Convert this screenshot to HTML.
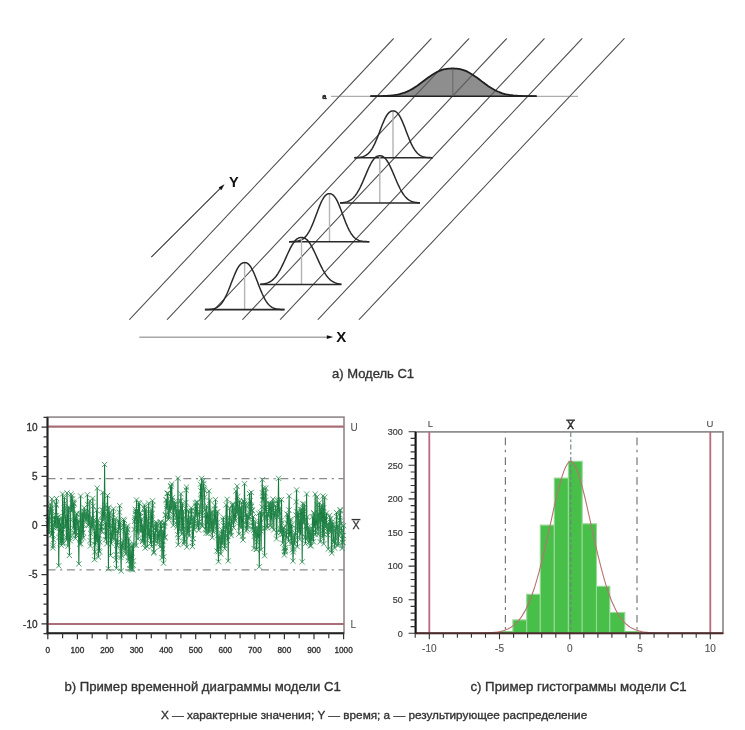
<!DOCTYPE html>
<html><head><meta charset="utf-8"><style>
html,body{margin:0;padding:0;background:#fff;width:745px;height:730px;overflow:hidden}
svg{display:block;filter:blur(0.7px);font-family:"Liberation Sans",sans-serif}
</style></head><body>
<svg width="745" height="730" viewBox="0 0 745 730" font-family="Liberation Sans, sans-serif"><g stroke="#6c6c6c" stroke-width="1.0" fill="none"><line x1="129.4" y1="319.7" x2="393.6" y2="38.5"/><line x1="167.1" y1="319.7" x2="431.3" y2="38.5"/><line x1="204.8" y1="319.7" x2="469.0" y2="38.5"/><line x1="242.5" y1="319.7" x2="506.7" y2="38.5"/><line x1="280.2" y1="319.7" x2="544.4" y2="38.5"/><line x1="317.9" y1="319.7" x2="582.1" y2="38.5"/><line x1="359.0" y1="319.7" x2="624.4" y2="38.4"/></g>
<line x1="331" y1="96.3" x2="578" y2="96.3" stroke="#9a9a9a" stroke-width="1"/>
<polygon points="370.40,96.18 372.06,96.18 373.72,96.17 375.39,96.15 377.05,96.13 378.71,96.11 380.37,96.08 382.03,96.04 383.70,95.98 385.36,95.91 387.02,95.83 388.68,95.72 390.34,95.58 392.01,95.41 393.67,95.21 395.33,94.96 396.99,94.67 398.65,94.32 400.32,93.92 401.98,93.45 403.64,92.92 405.30,92.31 406.96,91.62 408.63,90.86 410.29,90.03 411.95,89.11 413.61,88.13 415.27,87.07 416.94,85.96 418.60,84.79 420.26,83.58 421.92,82.34 423.58,81.08 425.25,79.82 426.91,78.57 428.57,77.34 430.23,76.15 431.89,75.02 433.56,73.96 435.22,72.97 436.88,72.07 438.54,71.27 440.20,70.57 441.87,69.98 443.53,69.49 445.19,69.11 446.85,68.83 448.51,68.64 450.18,68.54 451.84,68.50 453.50,68.51 455.16,68.55 456.82,68.67 458.49,68.88 460.15,69.18 461.81,69.58 463.47,70.09 465.13,70.71 466.80,71.43 468.46,72.25 470.12,73.16 471.78,74.17 473.44,75.25 475.11,76.39 476.77,77.59 478.43,78.82 480.09,80.07 481.75,81.34 483.42,82.59 485.08,83.83 486.74,85.03 488.40,86.19 490.06,87.29 491.73,88.33 493.39,89.30 495.05,90.20 496.71,91.02 498.37,91.77 500.04,92.44 501.70,93.03 503.36,93.55 505.02,94.01 506.68,94.40 508.35,94.73 510.01,95.02 511.67,95.25 513.33,95.45 514.99,95.61 516.66,95.74 518.32,95.85 519.98,95.93 521.64,95.99 523.30,96.05 524.97,96.09 526.63,96.12 528.29,96.14 529.95,96.16 531.61,96.17 533.28,96.18 534.94,96.18 536.60,96.19" fill="#8e8e8e"/>
<g stroke="#4a4a4a" stroke-width="1.1" fill="none" opacity="0.7"><line x1="129.4" y1="319.7" x2="393.6" y2="38.5"/><line x1="167.1" y1="319.7" x2="431.3" y2="38.5"/><line x1="204.8" y1="319.7" x2="469.0" y2="38.5"/><line x1="242.5" y1="319.7" x2="506.7" y2="38.5"/><line x1="280.2" y1="319.7" x2="544.4" y2="38.5"/><line x1="317.9" y1="319.7" x2="582.1" y2="38.5"/><line x1="359.0" y1="319.7" x2="624.4" y2="38.4"/></g>
<polyline points="370.40,96.18 372.06,96.18 373.72,96.17 375.39,96.15 377.05,96.13 378.71,96.11 380.37,96.08 382.03,96.04 383.70,95.98 385.36,95.91 387.02,95.83 388.68,95.72 390.34,95.58 392.01,95.41 393.67,95.21 395.33,94.96 396.99,94.67 398.65,94.32 400.32,93.92 401.98,93.45 403.64,92.92 405.30,92.31 406.96,91.62 408.63,90.86 410.29,90.03 411.95,89.11 413.61,88.13 415.27,87.07 416.94,85.96 418.60,84.79 420.26,83.58 421.92,82.34 423.58,81.08 425.25,79.82 426.91,78.57 428.57,77.34 430.23,76.15 431.89,75.02 433.56,73.96 435.22,72.97 436.88,72.07 438.54,71.27 440.20,70.57 441.87,69.98 443.53,69.49 445.19,69.11 446.85,68.83 448.51,68.64 450.18,68.54 451.84,68.50 453.50,68.51 455.16,68.55 456.82,68.67 458.49,68.88 460.15,69.18 461.81,69.58 463.47,70.09 465.13,70.71 466.80,71.43 468.46,72.25 470.12,73.16 471.78,74.17 473.44,75.25 475.11,76.39 476.77,77.59 478.43,78.82 480.09,80.07 481.75,81.34 483.42,82.59 485.08,83.83 486.74,85.03 488.40,86.19 490.06,87.29 491.73,88.33 493.39,89.30 495.05,90.20 496.71,91.02 498.37,91.77 500.04,92.44 501.70,93.03 503.36,93.55 505.02,94.01 506.68,94.40 508.35,94.73 510.01,95.02 511.67,95.25 513.33,95.45 514.99,95.61 516.66,95.74 518.32,95.85 519.98,95.93 521.64,95.99 523.30,96.05 524.97,96.09 526.63,96.12 528.29,96.14 529.95,96.16 531.61,96.17 533.28,96.18 534.94,96.18 536.60,96.19" fill="none" stroke="#1e1e1e" stroke-width="1.8"/>
<line x1="370.4" y1="96.2" x2="536.6" y2="96.2" stroke="#222" stroke-width="1.6"/>
<line x1="452.8" y1="96" x2="452.8" y2="68.8" stroke="#6a6a6a" stroke-width="1.1"/>
<text x="322.3" y="98.8" font-size="7.5" font-weight="bold" fill="#222" stroke="#222" stroke-width="0.4">a</text>
<line x1="393.0" y1="157.7" x2="393.0" y2="111.89999999999999" stroke="#b4b4b4" stroke-width="1.4"/>
<polyline points="354.30,157.65 355.08,157.63 355.87,157.60 356.65,157.57 357.43,157.52 358.22,157.47 359.00,157.39 359.78,157.30 360.56,157.18 361.35,157.04 362.13,156.86 362.91,156.64 363.70,156.38 364.48,156.06 365.26,155.69 366.05,155.24 366.83,154.71 367.61,154.10 368.39,153.40 369.18,152.60 369.96,151.69 370.74,150.67 371.53,149.53 372.31,148.28 373.09,146.90 373.88,145.41 374.66,143.81 375.44,142.10 376.22,140.30 377.01,138.41 377.79,136.46 378.57,134.45 379.36,132.40 380.14,130.34 380.92,128.30 381.71,126.28 382.49,124.31 383.27,122.42 384.05,120.63 384.84,118.95 385.62,117.41 386.40,116.01 387.19,114.78 387.97,113.71 388.75,112.83 389.54,112.11 390.32,111.58 391.10,111.21 391.88,110.99 392.67,110.91 393.45,110.91 394.23,111.01 395.02,111.25 395.80,111.65 396.58,112.21 397.37,112.95 398.15,113.86 398.93,114.95 399.71,116.21 400.50,117.63 401.28,119.19 402.06,120.89 402.85,122.70 403.63,124.60 404.41,126.58 405.20,128.60 405.98,130.65 406.76,132.71 407.54,134.75 408.33,136.75 409.11,138.70 409.89,140.58 410.68,142.37 411.46,144.06 412.24,145.64 413.03,147.12 413.81,148.47 414.59,149.71 415.37,150.83 416.16,151.83 416.94,152.73 417.72,153.51 418.51,154.20 419.29,154.80 420.07,155.31 420.86,155.75 421.64,156.11 422.42,156.42 423.20,156.68 423.99,156.89 424.77,157.06 425.55,157.20 426.34,157.32 427.12,157.40 427.90,157.47 428.69,157.53 429.47,157.57 430.25,157.60 431.03,157.63 431.82,157.65 432.60,157.66" fill="none" stroke="#2a2a2a" stroke-width="1.5"/>
<line x1="354.3" y1="157.7" x2="432.6" y2="157.7" stroke="#2a2a2a" stroke-width="1.6"/>
<line x1="379.8" y1="203.0" x2="379.8" y2="156.8" stroke="#b4b4b4" stroke-width="1.4"/>
<polyline points="340.00,202.83 340.80,202.78 341.60,202.72 342.40,202.64 343.20,202.54 344.00,202.42 344.80,202.28 345.60,202.11 346.40,201.90 347.20,201.65 348.00,201.35 348.80,201.01 349.60,200.60 350.40,200.13 351.20,199.59 352.00,198.98 352.80,198.28 353.60,197.50 354.40,196.62 355.20,195.64 356.00,194.57 356.80,193.40 357.60,192.13 358.40,190.75 359.20,189.29 360.00,187.73 360.80,186.08 361.60,184.37 362.40,182.59 363.20,180.75 364.00,178.88 364.80,176.99 365.60,175.09 366.40,173.19 367.20,171.33 368.00,169.51 368.80,167.75 369.60,166.07 370.40,164.49 371.20,163.01 372.00,161.65 372.80,160.43 373.60,159.35 374.40,158.41 375.20,157.62 376.00,156.98 376.80,156.49 377.60,156.14 378.40,155.92 379.20,155.82 380.00,155.80 380.80,155.86 381.60,156.01 382.40,156.30 383.20,156.72 384.00,157.28 384.80,157.99 385.60,158.86 386.40,159.87 387.20,161.02 388.00,162.32 388.80,163.73 389.60,165.27 390.40,166.90 391.20,168.62 392.00,170.41 392.80,172.26 393.60,174.14 394.40,176.04 395.20,177.94 396.00,179.82 396.80,181.68 397.60,183.48 398.40,185.24 399.20,186.92 400.00,188.52 400.80,190.03 401.60,191.45 402.40,192.77 403.20,194.00 404.00,195.12 404.80,196.14 405.60,197.07 406.40,197.90 407.20,198.64 408.00,199.30 408.80,199.87 409.60,200.37 410.40,200.81 411.20,201.19 412.00,201.51 412.80,201.78 413.60,202.01 414.40,202.20 415.20,202.36 416.00,202.49 416.80,202.59 417.60,202.68 418.40,202.75 419.20,202.81 420.00,202.85" fill="none" stroke="#2a2a2a" stroke-width="1.5"/>
<line x1="340.0" y1="203.0" x2="420.0" y2="203.0" stroke="#2a2a2a" stroke-width="1.6"/>
<line x1="329.5" y1="241.7" x2="329.5" y2="194.7" stroke="#b4b4b4" stroke-width="1.4"/>
<polyline points="289.00,241.67 289.80,241.66 290.61,241.65 291.41,241.63 292.21,241.60 293.01,241.57 293.82,241.52 294.62,241.47 295.42,241.39 296.23,241.30 297.03,241.18 297.83,241.03 298.64,240.84 299.44,240.61 300.24,240.33 301.05,239.99 301.85,239.59 302.65,239.11 303.45,238.54 304.26,237.89 305.06,237.13 305.86,236.26 306.67,235.27 307.47,234.17 308.27,232.93 309.07,231.57 309.88,230.08 310.68,228.47 311.48,226.74 312.29,224.90 313.09,222.96 313.89,220.94 314.70,218.85 315.50,216.71 316.30,214.55 317.11,212.39 317.91,210.25 318.71,208.16 319.51,206.14 320.32,204.22 321.12,202.42 321.92,200.76 322.73,199.25 323.53,197.92 324.33,196.76 325.13,195.80 325.94,195.03 326.74,194.44 327.54,194.04 328.35,193.80 329.15,193.71 329.95,193.71 330.76,193.82 331.56,194.08 332.36,194.51 333.17,195.11 333.97,195.91 334.77,196.90 335.57,198.08 336.38,199.43 337.18,200.96 337.98,202.64 338.79,204.46 339.59,206.40 340.39,208.43 341.19,210.52 342.00,212.67 342.80,214.83 343.60,216.99 344.41,219.12 345.21,221.20 346.01,223.21 346.82,225.14 347.62,226.97 348.42,228.68 349.23,230.28 350.03,231.75 350.83,233.10 351.63,234.31 352.44,235.41 353.24,236.38 354.04,237.23 354.85,237.98 355.65,238.62 356.45,239.17 357.25,239.64 358.06,240.04 358.86,240.37 359.66,240.64 360.47,240.87 361.27,241.05 362.07,241.19 362.88,241.31 363.68,241.40 364.48,241.48 365.29,241.53 366.09,241.57 366.89,241.61 367.69,241.63 368.50,241.65 369.30,241.66" fill="none" stroke="#2a2a2a" stroke-width="1.5"/>
<line x1="289.0" y1="241.7" x2="369.3" y2="241.7" stroke="#2a2a2a" stroke-width="1.6"/>
<line x1="301.5" y1="284.5" x2="301.5" y2="238.5" stroke="#b4b4b4" stroke-width="1.4"/>
<polyline points="260.20,284.26 261.01,284.20 261.82,284.12 262.64,284.02 263.45,283.91 264.26,283.77 265.07,283.60 265.88,283.40 266.70,283.17 267.51,282.89 268.32,282.57 269.13,282.20 269.94,281.77 270.76,281.27 271.57,280.71 272.38,280.08 273.19,279.37 274.00,278.58 274.82,277.71 275.63,276.74 276.44,275.69 277.25,274.54 278.06,273.31 278.88,271.98 279.69,270.57 280.50,269.08 281.31,267.52 282.12,265.89 282.94,264.20 283.75,262.46 284.56,260.69 285.37,258.90 286.18,257.09 287.00,255.30 287.81,253.52 288.62,251.78 289.43,250.09 290.24,248.46 291.06,246.92 291.87,245.46 292.68,244.11 293.49,242.87 294.30,241.76 295.12,240.77 295.93,239.91 296.74,239.19 297.55,238.61 298.36,238.16 299.18,237.83 299.99,237.62 300.80,237.52 301.61,237.50 302.42,237.54 303.24,237.67 304.05,237.91 304.86,238.27 305.67,238.76 306.48,239.38 307.30,240.14 308.11,241.03 308.92,242.05 309.73,243.20 310.54,244.47 311.36,245.85 312.17,247.34 312.98,248.90 313.79,250.55 314.60,252.26 315.42,254.01 316.23,255.79 317.04,257.59 317.85,259.39 318.66,261.18 319.48,262.95 320.29,264.67 321.10,266.35 321.91,267.96 322.72,269.50 323.54,270.97 324.35,272.36 325.16,273.66 325.97,274.87 326.78,275.99 327.60,277.02 328.41,277.96 329.22,278.81 330.03,279.58 330.84,280.26 331.66,280.88 332.47,281.42 333.28,281.89 334.09,282.30 334.90,282.66 335.72,282.97 336.53,283.24 337.34,283.46 338.15,283.65 338.96,283.81 339.78,283.94 340.59,284.05 341.40,284.14" fill="none" stroke="#2a2a2a" stroke-width="1.5"/>
<line x1="260.2" y1="284.5" x2="341.4" y2="284.5" stroke="#2a2a2a" stroke-width="1.6"/>
<line x1="244.6" y1="309.6" x2="244.6" y2="263.6" stroke="#b4b4b4" stroke-width="1.4"/>
<polyline points="204.90,309.56 205.70,309.54 206.49,309.52 207.29,309.50 208.08,309.46 208.88,309.41 209.68,309.35 210.47,309.27 211.27,309.18 212.06,309.05 212.86,308.90 213.66,308.71 214.45,308.48 215.25,308.20 216.04,307.87 216.84,307.47 217.64,306.99 218.43,306.44 219.23,305.80 220.02,305.06 220.82,304.21 221.62,303.26 222.41,302.19 223.21,301.00 224.00,299.69 224.80,298.26 225.60,296.71 226.39,295.05 227.19,293.28 227.98,291.42 228.78,289.48 229.58,287.48 230.37,285.42 231.17,283.35 231.96,281.26 232.76,279.20 233.56,277.18 234.35,275.22 235.15,273.34 235.94,271.58 236.74,269.94 237.54,268.45 238.33,267.11 239.13,265.94 239.92,264.96 240.72,264.15 241.52,263.52 242.31,263.06 243.11,262.77 243.90,262.63 244.70,262.60 245.50,262.65 246.29,262.83 247.09,263.16 247.88,263.66 248.68,264.33 249.48,265.19 250.27,266.22 251.07,267.43 251.86,268.81 252.66,270.34 253.46,272.01 254.25,273.80 255.05,275.70 255.84,277.68 256.64,279.71 257.44,281.79 258.23,283.87 259.03,285.94 259.82,287.98 260.62,289.97 261.42,291.90 262.21,293.73 263.01,295.47 263.80,297.11 264.60,298.63 265.40,300.03 266.19,301.31 266.99,302.47 267.78,303.51 268.58,304.44 269.38,305.25 270.17,305.97 270.97,306.59 271.76,307.12 272.56,307.57 273.36,307.96 274.15,308.28 274.95,308.54 275.74,308.76 276.54,308.94 277.34,309.09 278.13,309.20 278.93,309.30 279.72,309.37 280.52,309.43 281.32,309.47 282.11,309.50 282.91,309.53 283.70,309.55 284.50,309.56" fill="none" stroke="#2a2a2a" stroke-width="1.5"/>
<line x1="204.9" y1="309.6" x2="284.5" y2="309.6" stroke="#2a2a2a" stroke-width="1.6"/>
<line x1="151.3" y1="257.1" x2="221" y2="187.6" stroke="#333" stroke-width="1.1"/>
<polygon points="224.5,184.2 218.6,187.6 221.3,190.3" fill="#111"/>
<text x="229" y="186.6" font-size="14.5" font-weight="bold" fill="#111">Y</text>
<line x1="139.3" y1="337.2" x2="328" y2="337.2" stroke="#a8a8a8" stroke-width="1.5"/>
<polygon points="333.2,337.1 326.8,335.3 326.8,338.9" fill="#111"/>
<text x="336.3" y="342.1" font-size="15" font-weight="bold" fill="#111">X</text>
<text x="332.0" y="378.1" font-size="13.0" fill="#333" stroke="#333" stroke-width="0.35">а) Модель С1</text>
<rect x="47.5" y="417.1" width="296.5" height="216.19999999999993" fill="none" stroke="#8f878b" stroke-width="1.6"/>
<line x1="47.5" y1="426.7" x2="344.0" y2="426.7" stroke="#a86e76" stroke-width="2.2"/>
<line x1="47.5" y1="624.0" x2="344.0" y2="624.0" stroke="#a86e76" stroke-width="2.2"/>
<line x1="47.5" y1="478.6" x2="344.0" y2="478.6" stroke="#8c8c8c" stroke-width="1.3" stroke-dasharray="8,4.6,2.2,4.6"/>
<line x1="47.5" y1="569.9" x2="344.0" y2="569.9" stroke="#8c8c8c" stroke-width="1.3" stroke-dasharray="8,4.6,2.2,4.6"/>
<polyline points="47.80,523.48 48.10,516.39 48.39,520.83 48.69,524.28 48.98,533.14 49.28,529.90 49.57,513.12 49.87,511.68 50.17,503.95 50.46,508.62 50.76,509.53 51.05,512.41 51.35,534.94 51.65,518.80 51.94,498.93 52.24,511.24 52.53,534.59 52.83,548.02 53.12,545.74 53.42,539.71 53.72,527.65 54.01,524.99 54.31,517.11 54.60,525.94 54.90,520.03 55.20,515.82 55.49,525.44 55.79,503.82 56.08,505.06 56.38,498.50 56.67,515.46 56.97,526.13 57.27,527.53 57.56,525.60 57.86,517.07 58.15,517.10 58.45,525.39 58.74,565.84 59.04,537.46 59.34,518.89 59.63,532.03 59.93,527.74 60.22,523.71 60.52,542.70 60.82,535.74 61.11,517.68 61.41,545.32 61.70,541.37 62.00,536.76 62.29,542.27 62.59,494.01 62.89,529.15 63.18,543.82 63.48,525.46 63.77,516.66 64.07,508.20 64.36,497.46 64.66,503.26 64.96,508.71 65.25,527.27 65.55,516.41 65.84,524.32 66.14,526.88 66.44,537.47 66.73,539.93 67.03,493.03 67.32,513.78 67.62,538.95 67.91,546.29 68.21,531.13 68.51,509.16 68.80,506.87 69.10,533.65 69.39,555.38 69.69,534.79 69.98,535.84 70.28,540.76 70.58,519.73 70.87,494.01 71.17,510.31 71.46,511.27 71.76,509.66 72.06,495.65 72.35,498.98 72.65,501.94 72.94,503.25 73.24,527.91 73.53,509.22 73.83,502.64 74.13,503.83 74.42,532.82 74.72,533.60 75.01,517.32 75.31,538.40 75.61,531.58 75.90,516.28 76.20,535.18 76.49,513.45 76.79,514.41 77.08,523.82 77.38,524.55 77.68,522.21 77.97,527.85 78.27,520.28 78.56,535.43 78.86,563.88 79.15,527.53 79.45,531.63 79.75,544.15 80.04,528.94 80.34,514.06 80.63,495.98 80.93,543.83 81.23,538.44 81.52,535.00 81.82,534.15 82.11,513.78 82.41,529.45 82.70,512.96 83.00,532.51 83.30,537.82 83.59,524.69 83.89,511.84 84.18,507.82 84.48,511.43 84.78,515.71 85.07,517.95 85.37,514.39 85.66,520.94 85.96,519.41 86.25,515.23 86.55,519.40 86.85,513.06 87.14,511.81 87.44,494.78 87.73,504.48 88.03,518.34 88.32,525.33 88.62,525.11 88.92,514.39 89.21,522.76 89.51,519.18 89.80,500.79 90.10,540.49 90.40,546.02 90.69,533.58 90.99,525.00 91.28,522.08 91.58,528.06 91.87,519.05 92.17,518.32 92.47,527.01 92.76,498.39 93.06,506.13 93.35,520.67 93.65,523.53 93.94,527.62 94.24,528.52 94.54,559.67 94.83,551.93 95.13,531.24 95.42,544.99 95.72,540.58 96.02,527.10 96.31,521.28 96.61,510.29 96.90,540.37 97.20,488.11 97.49,542.23 97.79,531.64 98.09,520.51 98.38,557.10 98.68,534.54 98.97,550.84 99.27,535.69 99.56,551.98 99.86,542.06 100.16,525.07 100.45,530.94 100.75,530.31 101.04,523.11 101.34,526.57 101.64,531.08 101.93,515.20 102.23,509.99 102.52,521.43 102.82,492.44 103.11,519.65 103.41,510.41 103.71,517.80 104.00,516.47 104.30,508.37 104.59,464.49 104.89,504.94 105.19,527.49 105.48,539.69 105.78,522.36 106.07,530.69 106.37,535.99 106.66,543.92 106.96,517.31 107.26,508.56 107.55,495.53 107.85,515.64 108.14,518.49 108.44,568.80 108.73,522.12 109.03,507.32 109.33,528.33 109.62,513.23 109.92,512.49 110.21,526.35 110.51,555.36 110.81,531.76 111.10,535.79 111.40,543.74 111.69,536.77 111.99,532.81 112.28,518.33 112.58,538.85 112.88,525.74 113.17,514.56 113.47,508.81 113.76,524.12 114.06,538.92 114.36,527.11 114.65,530.84 114.95,532.79 115.24,519.15 115.54,530.74 115.83,560.13 116.13,554.68 116.43,568.29 116.72,545.52 117.02,538.68 117.31,545.42 117.61,542.32 117.90,531.09 118.20,533.44 118.50,520.61 118.79,529.26 119.09,521.55 119.38,512.21 119.68,505.73 119.98,527.98 120.27,522.67 120.57,550.93 120.86,557.50 121.16,571.07 121.45,544.22 121.75,555.49 122.05,547.90 122.34,545.75 122.64,542.72 122.93,547.42 123.23,540.67 123.52,519.33 123.82,527.36 124.12,526.27 124.41,520.36 124.71,530.67 125.00,548.35 125.30,550.11 125.60,532.64 125.89,553.81 126.19,553.59 126.48,535.31 126.78,527.68 127.07,532.37 127.37,525.92 127.67,529.61 127.96,546.86 128.26,560.70 128.55,557.85 128.85,538.61 129.14,544.86 129.44,552.12 129.74,568.80 130.03,564.61 130.33,554.09 130.62,560.33 130.92,546.29 131.22,569.40 131.51,551.69 131.81,552.92 132.10,568.32 132.40,545.73 132.69,569.78 132.99,565.13 133.29,560.90 133.58,544.98 133.88,544.32 134.17,529.54 134.47,521.39 134.77,517.43 135.06,519.58 135.36,509.37 135.65,511.37 135.95,514.84 136.24,545.43 136.54,499.92 136.84,514.56 137.13,525.06 137.43,532.78 137.72,509.76 138.02,538.95 138.31,529.81 138.61,502.66 138.91,525.65 139.20,519.99 139.50,503.34 139.79,516.89 140.09,516.63 140.39,512.62 140.68,530.88 140.98,531.68 141.27,527.80 141.57,519.64 141.86,524.88 142.16,529.58 142.46,541.46 142.75,540.55 143.05,525.90 143.34,526.78 143.64,538.07 143.94,544.15 144.23,507.80 144.53,505.08 144.82,509.27 145.12,548.13 145.41,533.13 145.71,526.47 146.01,509.19 146.30,513.90 146.60,522.10 146.89,519.93 147.19,546.65 147.48,527.66 147.78,525.22 148.08,535.51 148.37,518.22 148.67,503.23 148.96,531.34 149.26,538.46 149.56,531.55 149.85,528.96 150.15,534.13 150.44,543.48 150.74,513.61 151.03,509.44 151.33,532.39 151.63,546.72 151.92,520.12 152.22,513.56 152.51,500.76 152.81,505.26 153.10,526.86 153.40,526.03 153.70,553.06 153.99,552.05 154.29,543.79 154.58,532.77 154.88,540.95 155.18,538.50 155.47,530.56 155.77,527.12 156.06,522.27 156.36,524.46 156.65,531.69 156.95,523.08 157.25,526.71 157.54,538.61 157.84,542.89 158.13,538.17 158.43,536.81 158.72,533.04 159.02,532.75 159.32,530.60 159.61,532.92 159.91,546.92 160.20,535.61 160.50,522.24 160.80,521.89 161.09,528.75 161.39,525.34 161.68,539.44 161.98,557.72 162.27,545.65 162.57,548.68 162.87,530.76 163.16,540.85 163.46,563.19 163.75,556.81 164.05,522.99 164.35,525.87 164.64,537.95 164.94,537.04 165.23,522.85 165.53,515.32 165.82,514.80 166.12,499.73 166.42,500.23 166.71,508.74 167.01,506.43 167.30,493.19 167.60,493.64 167.89,493.29 168.19,516.94 168.49,519.37 168.78,510.77 169.08,517.65 169.37,505.99 169.67,504.92 169.97,500.80 170.26,511.22 170.56,485.73 170.85,486.50 171.15,503.39 171.44,509.21 171.74,484.08 172.04,503.50 172.33,500.41 172.63,497.51 172.92,506.93 173.22,525.39 173.51,520.22 173.81,515.43 174.11,504.08 174.40,501.76 174.70,509.07 174.99,503.70 175.29,504.30 175.59,508.41 175.88,512.38 176.18,517.28 176.47,509.16 176.77,524.10 177.06,527.20 177.36,521.44 177.66,534.60 177.95,478.27 178.25,544.84 178.54,537.75 178.84,520.05 179.14,510.33 179.43,512.02 179.73,514.96 180.02,529.98 180.32,501.52 180.61,500.72 180.91,493.74 181.21,512.26 181.50,514.56 181.80,534.31 182.09,515.76 182.39,503.80 182.68,529.28 182.98,522.41 183.28,510.91 183.57,531.66 183.87,543.79 184.16,541.85 184.46,535.86 184.76,541.32 185.05,528.08 185.35,518.34 185.64,508.63 185.94,502.52 186.23,490.10 186.53,487.10 186.83,547.15 187.12,518.85 187.42,528.08 187.71,533.35 188.01,524.98 188.31,519.39 188.60,510.84 188.90,529.64 189.19,536.02 189.49,525.79 189.78,522.16 190.08,521.43 190.38,518.22 190.67,524.34 190.97,511.17 191.26,507.85 191.56,511.03 191.85,519.39 192.15,518.35 192.45,546.61 192.74,542.46 193.04,528.65 193.33,538.50 193.63,524.20 193.93,516.72 194.22,529.67 194.52,523.85 194.81,521.16 195.11,510.73 195.40,503.08 195.70,506.01 196.00,516.64 196.29,514.73 196.59,512.79 196.88,502.67 197.18,502.09 197.47,513.27 197.77,526.57 198.07,522.78 198.36,524.86 198.66,530.20 198.95,521.87 199.25,521.53 199.55,514.60 199.84,506.05 200.14,511.95 200.43,484.22 200.73,498.91 201.02,490.88 201.32,497.55 201.62,478.27 201.91,525.32 202.21,526.38 202.50,515.66 202.80,505.74 203.10,480.67 203.39,489.66 203.69,483.78 203.98,488.65 204.28,490.31 204.57,497.21 204.87,509.57 205.17,509.88 205.46,529.04 205.76,515.05 206.05,533.26 206.35,529.98 206.64,505.74 206.94,518.93 207.24,523.44 207.53,512.98 207.83,520.09 208.12,533.43 208.42,528.71 208.72,522.45 209.01,491.06 209.31,531.65 209.60,510.82 209.90,500.34 210.19,513.22 210.49,517.48 210.79,527.71 211.08,512.48 211.38,528.09 211.67,521.07 211.97,530.26 212.26,537.74 212.56,525.87 212.86,512.38 213.15,520.17 213.45,532.01 213.74,521.67 214.04,525.72 214.34,523.88 214.63,509.15 214.93,505.47 215.22,522.14 215.52,499.58 215.81,513.42 216.11,512.36 216.41,528.20 216.70,530.29 217.00,550.93 217.29,522.46 217.59,511.76 217.88,535.28 218.18,551.70 218.48,561.79 218.77,535.70 219.07,539.85 219.36,537.62 219.66,539.25 219.96,537.97 220.25,548.22 220.55,541.26 220.84,553.99 221.14,545.52 221.43,536.56 221.73,529.83 222.03,534.05 222.32,543.97 222.62,537.40 222.91,541.07 223.21,519.89 223.51,517.27 223.80,525.82 224.10,534.55 224.39,541.97 224.69,548.71 224.98,545.80 225.28,536.87 225.58,529.46 225.87,524.78 226.17,504.90 226.46,525.69 226.76,529.00 227.05,499.34 227.35,535.78 227.65,540.60 227.94,533.30 228.24,560.92 228.53,522.02 228.83,524.82 229.13,518.56 229.42,517.70 229.72,508.13 230.01,532.06 230.31,532.86 230.60,524.48 230.90,531.52 231.20,535.54 231.49,518.83 231.79,524.09 232.08,512.45 232.38,504.79 232.68,505.55 232.97,503.69 233.27,509.59 233.56,527.60 233.86,521.91 234.15,513.29 234.45,519.68 234.75,518.34 235.04,507.99 235.34,520.71 235.63,510.53 235.93,491.10 236.22,507.76 236.52,508.99 236.82,513.03 237.11,486.14 237.41,500.67 237.70,496.59 238.00,512.32 238.30,513.34 238.59,513.83 238.89,534.09 239.18,508.83 239.48,501.06 239.77,526.76 240.07,512.68 240.37,514.84 240.66,509.47 240.96,507.44 241.25,527.44 241.55,523.87 241.84,502.62 242.14,514.33 242.44,525.84 242.73,535.98 243.03,539.99 243.32,524.58 243.62,500.75 243.92,501.94 244.21,504.67 244.51,483.67 244.80,503.28 245.10,515.82 245.39,509.10 245.69,505.18 245.99,520.72 246.28,531.02 246.58,520.15 246.87,514.66 247.17,529.24 247.46,524.75 247.76,526.14 248.06,515.55 248.35,516.26 248.65,516.30 248.94,519.35 249.24,505.10 249.54,493.45 249.83,506.93 250.13,500.62 250.42,515.30 250.72,513.98 251.01,505.59 251.31,492.32 251.61,506.49 251.90,510.79 252.20,510.09 252.49,528.89 252.79,522.09 253.09,526.18 253.38,516.58 253.68,530.31 253.97,548.36 254.27,536.39 254.56,528.20 254.86,533.77 255.16,521.47 255.45,528.77 255.75,537.45 256.04,530.88 256.34,549.30 256.63,549.36 256.93,541.96 257.23,528.04 257.52,531.84 257.82,528.60 258.11,537.72 258.41,531.91 258.71,513.30 259.00,529.66 259.30,566.83 259.59,524.12 259.89,525.68 260.18,523.88 260.48,512.38 260.78,530.76 261.07,549.75 261.37,528.68 261.66,514.07 261.96,507.09 262.25,479.65 262.55,493.09 262.85,499.93 263.14,496.05 263.44,500.26 263.73,487.92 264.03,513.97 264.33,518.54 264.62,555.78 264.92,528.09 265.21,493.03 265.51,510.60 265.80,488.06 266.10,500.10 266.40,509.54 266.69,517.50 266.99,525.71 267.28,527.88 267.58,514.70 267.88,514.27 268.17,513.71 268.47,516.10 268.76,505.11 269.06,503.83 269.35,510.31 269.65,504.75 269.95,510.94 270.24,525.67 270.54,504.25 270.83,503.68 271.13,519.46 271.42,505.10 271.72,505.50 272.02,527.33 272.31,503.42 272.61,504.71 272.90,499.11 273.20,503.87 273.50,510.43 273.79,529.86 274.09,512.03 274.38,512.88 274.68,516.93 274.97,511.95 275.27,512.29 275.57,505.72 275.86,513.95 276.16,514.69 276.45,538.89 276.75,532.78 277.05,516.99 277.34,500.82 277.64,511.17 277.93,516.31 278.23,500.83 278.52,478.27 278.82,511.63 279.12,500.13 279.41,513.33 279.71,508.14 280.00,528.20 280.30,529.82 280.59,532.74 280.89,532.17 281.19,520.37 281.48,499.62 281.78,522.78 282.07,534.50 282.37,528.81 282.67,543.24 282.96,533.62 283.26,527.48 283.55,533.71 283.85,527.99 284.14,548.39 284.44,555.02 284.74,551.35 285.03,551.59 285.33,550.13 285.62,547.57 285.92,531.91 286.21,532.08 286.51,537.60 286.81,529.99 287.10,514.06 287.40,523.12 287.69,524.04 287.99,514.65 288.29,520.49 288.58,541.26 288.88,509.97 289.17,495.95 289.47,535.70 289.76,535.54 290.06,530.28 290.36,521.19 290.65,519.54 290.95,529.29 291.24,543.49 291.54,538.22 291.83,524.79 292.13,541.42 292.43,549.87 292.72,543.17 293.02,561.13 293.31,552.02 293.61,549.01 293.91,535.51 294.20,540.32 294.50,544.19 294.79,539.99 295.09,532.97 295.38,535.25 295.68,528.04 295.98,514.90 296.27,501.95 296.57,489.93 296.86,511.48 297.16,519.22 297.46,546.82 297.75,512.41 298.05,523.18 298.34,521.28 298.64,513.95 298.93,531.20 299.23,520.06 299.53,519.49 299.82,539.54 300.12,526.59 300.41,509.26 300.71,534.38 301.00,517.93 301.30,515.65 301.60,511.39 301.89,509.42 302.19,561.91 302.48,509.90 302.78,503.72 303.08,514.84 303.37,508.08 303.67,521.81 303.96,523.29 304.26,504.15 304.55,509.03 304.85,519.41 305.15,537.14 305.44,543.74 305.74,537.10 306.03,525.87 306.33,526.36 306.62,494.01 306.92,529.83 307.22,517.01 307.51,529.68 307.81,538.45 308.10,527.00 308.40,530.03 308.70,535.57 308.99,541.99 309.29,541.90 309.58,531.89 309.88,529.44 310.17,545.78 310.47,536.26 310.77,533.82 311.06,545.82 311.36,532.36 311.65,536.87 311.95,539.98 312.25,528.89 312.54,516.85 312.84,532.96 313.13,529.07 313.43,541.81 313.72,512.71 314.02,526.40 314.32,513.89 314.61,526.92 314.91,516.65 315.20,494.13 315.50,534.68 315.79,532.21 316.09,519.33 316.39,518.03 316.68,524.97 316.98,496.87 317.27,504.87 317.57,528.78 317.87,513.65 318.16,534.48 318.46,513.43 318.75,521.41 319.05,517.63 319.34,502.92 319.64,507.76 319.94,527.50 320.23,541.81 320.53,517.10 320.82,508.52 321.12,521.40 321.42,509.54 321.71,507.11 322.01,505.17 322.30,537.48 322.60,533.60 322.89,495.98 323.19,512.34 323.49,507.86 323.78,543.66 324.08,534.13 324.37,525.72 324.67,497.19 324.96,521.16 325.26,527.28 325.56,526.52 325.85,516.48 326.15,526.00 326.44,513.23 326.74,528.11 327.04,524.36 327.33,531.28 327.63,527.33 327.92,534.77 328.22,549.12 328.51,526.56 328.81,523.09 329.11,530.94 329.40,526.66 329.70,515.38 329.99,531.44 330.29,530.46 330.58,522.57 330.88,518.38 331.18,525.82 331.47,549.96 331.77,553.05 332.06,522.14 332.36,523.94 332.66,528.24 332.95,524.47 333.25,530.19 333.54,540.12 333.84,542.35 334.13,541.97 334.43,541.93 334.73,548.09 335.02,531.17 335.32,543.88 335.61,528.59 335.91,539.12 336.21,529.45 336.50,512.56 336.80,516.53 337.09,529.28 337.39,527.47 337.68,525.35 337.98,545.48 338.28,543.81 338.57,534.17 338.87,536.02 339.16,530.83 339.46,520.57 339.75,514.56 340.05,509.67 340.35,510.58 340.64,520.99 340.94,523.67 341.23,528.01 341.53,530.87 341.83,530.93 342.12,548.44 342.42,542.33 342.71,535.47 343.01,542.45 343.30,535.54 343.60,525.63" fill="none" stroke="#157a3c" stroke-width="1.1" stroke-linejoin="bevel"/>
<path d="M45.2 520.9L50.4 526.1M45.2 526.1L50.4 520.9M45.5 513.8L50.7 519.0M45.5 519.0L50.7 513.8M45.8 518.2L51.0 523.4M45.8 523.4L51.0 518.2M46.1 521.7L51.3 526.9M46.1 526.9L51.3 521.7M46.4 530.5L51.6 535.7M46.4 535.7L51.6 530.5M46.7 527.3L51.9 532.5M46.7 532.5L51.9 527.3M47.0 510.5L52.2 515.7M47.0 515.7L52.2 510.5M47.3 509.1L52.5 514.3M47.3 514.3L52.5 509.1M47.6 501.4L52.8 506.6M47.6 506.6L52.8 501.4M47.9 506.0L53.1 511.2M47.9 511.2L53.1 506.0M48.2 506.9L53.4 512.1M48.2 512.1L53.4 506.9M48.5 509.8L53.7 515.0M48.5 515.0L53.7 509.8M48.7 532.3L53.9 537.5M48.7 537.5L53.9 532.3M49.0 516.2L54.2 521.4M49.0 521.4L54.2 516.2M49.3 496.3L54.5 501.5M49.3 501.5L54.5 496.3M49.6 508.6L54.8 513.8M49.6 513.8L54.8 508.6M49.9 532.0L55.1 537.2M49.9 537.2L55.1 532.0M50.2 545.4L55.4 550.6M50.2 550.6L55.4 545.4M50.5 543.1L55.7 548.3M50.5 548.3L55.7 543.1M50.8 537.1L56.0 542.3M50.8 542.3L56.0 537.1M51.1 525.0L56.3 530.2M51.1 530.2L56.3 525.0M51.4 522.4L56.6 527.6M51.4 527.6L56.6 522.4M51.7 514.5L56.9 519.7M51.7 519.7L56.9 514.5M52.0 523.3L57.2 528.5M52.0 528.5L57.2 523.3M52.3 517.4L57.5 522.6M52.3 522.6L57.5 517.4M52.6 513.2L57.8 518.4M52.6 518.4L57.8 513.2M52.9 522.8L58.1 528.0M52.9 528.0L58.1 522.8M53.2 501.2L58.4 506.4M53.2 506.4L58.4 501.2M53.5 502.5L58.7 507.7M53.5 507.7L58.7 502.5M53.8 495.9L59.0 501.1M53.8 501.1L59.0 495.9M54.1 512.9L59.3 518.1M54.1 518.1L59.3 512.9M54.4 523.5L59.6 528.7M54.4 528.7L59.6 523.5M54.7 524.9L59.9 530.1M54.7 530.1L59.9 524.9M55.0 523.0L60.2 528.2M55.0 528.2L60.2 523.0M55.3 514.5L60.5 519.7M55.3 519.7L60.5 514.5M55.6 514.5L60.8 519.7M55.6 519.7L60.8 514.5M55.8 522.8L61.0 528.0M55.8 528.0L61.0 522.8M56.1 563.2L61.3 568.4M56.1 568.4L61.3 563.2M56.4 534.9L61.6 540.1M56.4 540.1L61.6 534.9M56.7 516.3L61.9 521.5M56.7 521.5L61.9 516.3M57.0 529.4L62.2 534.6M57.0 534.6L62.2 529.4M57.3 525.1L62.5 530.3M57.3 530.3L62.5 525.1M57.6 521.1L62.8 526.3M57.6 526.3L62.8 521.1M57.9 540.1L63.1 545.3M57.9 545.3L63.1 540.1M58.2 533.1L63.4 538.3M58.2 538.3L63.4 533.1M58.5 515.1L63.7 520.3M58.5 520.3L63.7 515.1M58.8 542.7L64.0 547.9M58.8 547.9L64.0 542.7M59.1 538.8L64.3 544.0M59.1 544.0L64.3 538.8M59.4 534.2L64.6 539.4M59.4 539.4L64.6 534.2M59.7 539.7L64.9 544.9M59.7 544.9L64.9 539.7M60.0 491.4L65.2 496.6M60.0 496.6L65.2 491.4M60.3 526.5L65.5 531.7M60.3 531.7L65.5 526.5M60.6 541.2L65.8 546.4M60.6 546.4L65.8 541.2M60.9 522.9L66.1 528.1M60.9 528.1L66.1 522.9M61.2 514.1L66.4 519.3M61.2 519.3L66.4 514.1M61.5 505.6L66.7 510.8M61.5 510.8L66.7 505.6M61.8 494.9L67.0 500.1M61.8 500.1L67.0 494.9M62.1 500.7L67.3 505.9M62.1 505.9L67.3 500.7M62.4 506.1L67.6 511.3M62.4 511.3L67.6 506.1M62.7 524.7L67.9 529.9M62.7 529.9L67.9 524.7M62.9 513.8L68.1 519.0M62.9 519.0L68.1 513.8M63.2 521.7L68.4 526.9M63.2 526.9L68.4 521.7M63.5 524.3L68.7 529.5M63.5 529.5L68.7 524.3M63.8 534.9L69.0 540.1M63.8 540.1L69.0 534.9M64.1 537.3L69.3 542.5M64.1 542.5L69.3 537.3M64.4 490.4L69.6 495.6M64.4 495.6L69.6 490.4M64.7 511.2L69.9 516.4M64.7 516.4L69.9 511.2M65.0 536.3L70.2 541.5M65.0 541.5L70.2 536.3M65.3 543.7L70.5 548.9M65.3 548.9L70.5 543.7M65.6 528.5L70.8 533.7M65.6 533.7L70.8 528.5M65.9 506.6L71.1 511.8M65.9 511.8L71.1 506.6M66.2 504.3L71.4 509.5M66.2 509.5L71.4 504.3M66.5 531.1L71.7 536.3M66.5 536.3L71.7 531.1M66.8 552.8L72.0 558.0M66.8 558.0L72.0 552.8M67.1 532.2L72.3 537.4M67.1 537.4L72.3 532.2M67.4 533.2L72.6 538.4M67.4 538.4L72.6 533.2M67.7 538.2L72.9 543.4M67.7 543.4L72.9 538.2M68.0 517.1L73.2 522.3M68.0 522.3L73.2 517.1M68.3 491.4L73.5 496.6M68.3 496.6L73.5 491.4M68.6 507.7L73.8 512.9M68.6 512.9L73.8 507.7M68.9 508.7L74.1 513.9M68.9 513.9L74.1 508.7M69.2 507.1L74.4 512.3M69.2 512.3L74.4 507.1M69.5 493.0L74.7 498.2M69.5 498.2L74.7 493.0M69.8 496.4L75.0 501.6M69.8 501.6L75.0 496.4M70.0 499.3L75.2 504.5M70.0 504.5L75.2 499.3M70.3 500.6L75.5 505.8M70.3 505.8L75.5 500.6M70.6 525.3L75.8 530.5M70.6 530.5L75.8 525.3M70.9 506.6L76.1 511.8M70.9 511.8L76.1 506.6M71.2 500.0L76.4 505.2M71.2 505.2L76.4 500.0M71.5 501.2L76.7 506.4M71.5 506.4L76.7 501.2M71.8 530.2L77.0 535.4M71.8 535.4L77.0 530.2M72.1 531.0L77.3 536.2M72.1 536.2L77.3 531.0M72.4 514.7L77.6 519.9M72.4 519.9L77.6 514.7M72.7 535.8L77.9 541.0M72.7 541.0L77.9 535.8M73.0 529.0L78.2 534.2M73.0 534.2L78.2 529.0M73.3 513.7L78.5 518.9M73.3 518.9L78.5 513.7M73.6 532.6L78.8 537.8M73.6 537.8L78.8 532.6M73.9 510.9L79.1 516.1M73.9 516.1L79.1 510.9M74.2 511.8L79.4 517.0M74.2 517.0L79.4 511.8M74.5 521.2L79.7 526.4M74.5 526.4L79.7 521.2M74.8 521.9L80.0 527.1M74.8 527.1L80.0 521.9M75.1 519.6L80.3 524.8M75.1 524.8L80.3 519.6M75.4 525.2L80.6 530.4M75.4 530.4L80.6 525.2M75.7 517.7L80.9 522.9M75.7 522.9L80.9 517.7M76.0 532.8L81.2 538.0M76.0 538.0L81.2 532.8M76.3 561.3L81.5 566.5M76.3 566.5L81.5 561.3M76.6 524.9L81.8 530.1M76.6 530.1L81.8 524.9M76.9 529.0L82.1 534.2M76.9 534.2L82.1 529.0M77.1 541.5L82.3 546.7M77.1 546.7L82.3 541.5M77.4 526.3L82.6 531.5M77.4 531.5L82.6 526.3M77.7 511.5L82.9 516.7M77.7 516.7L82.9 511.5M78.0 493.4L83.2 498.6M78.0 498.6L83.2 493.4M78.3 541.2L83.5 546.4M78.3 546.4L83.5 541.2M78.6 535.8L83.8 541.0M78.6 541.0L83.8 535.8M78.9 532.4L84.1 537.6M78.9 537.6L84.1 532.4M79.2 531.6L84.4 536.8M79.2 536.8L84.4 531.6M79.5 511.2L84.7 516.4M79.5 516.4L84.7 511.2M79.8 526.8L85.0 532.0M79.8 532.0L85.0 526.8M80.1 510.4L85.3 515.6M80.1 515.6L85.3 510.4M80.4 529.9L85.6 535.1M80.4 535.1L85.6 529.9M80.7 535.2L85.9 540.4M80.7 540.4L85.9 535.2M81.0 522.1L86.2 527.3M81.0 527.3L86.2 522.1M81.3 509.2L86.5 514.4M81.3 514.4L86.5 509.2M81.6 505.2L86.8 510.4M81.6 510.4L86.8 505.2M81.9 508.8L87.1 514.0M81.9 514.0L87.1 508.8M82.2 513.1L87.4 518.3M82.2 518.3L87.4 513.1M82.5 515.3L87.7 520.5M82.5 520.5L87.7 515.3M82.8 511.8L88.0 517.0M82.8 517.0L88.0 511.8M83.1 518.3L88.3 523.5M83.1 523.5L88.3 518.3M83.4 516.8L88.6 522.0M83.4 522.0L88.6 516.8M83.7 512.6L88.9 517.8M83.7 517.8L88.9 512.6M83.9 516.8L89.1 522.0M83.9 522.0L89.1 516.8M84.2 510.5L89.4 515.7M84.2 515.7L89.4 510.5M84.5 509.2L89.7 514.4M84.5 514.4L89.7 509.2M84.8 492.2L90.0 497.4M84.8 497.4L90.0 492.2M85.1 501.9L90.3 507.1M85.1 507.1L90.3 501.9M85.4 515.7L90.6 520.9M85.4 520.9L90.6 515.7M85.7 522.7L90.9 527.9M85.7 527.9L90.9 522.7M86.0 522.5L91.2 527.7M86.0 527.7L91.2 522.5M86.3 511.8L91.5 517.0M86.3 517.0L91.5 511.8M86.6 520.2L91.8 525.4M86.6 525.4L91.8 520.2M86.9 516.6L92.1 521.8M86.9 521.8L92.1 516.6M87.2 498.2L92.4 503.4M87.2 503.4L92.4 498.2M87.5 537.9L92.7 543.1M87.5 543.1L92.7 537.9M87.8 543.4L93.0 548.6M87.8 548.6L93.0 543.4M88.1 531.0L93.3 536.2M88.1 536.2L93.3 531.0M88.4 522.4L93.6 527.6M88.4 527.6L93.6 522.4M88.7 519.5L93.9 524.7M88.7 524.7L93.9 519.5M89.0 525.5L94.2 530.7M89.0 530.7L94.2 525.5M89.3 516.4L94.5 521.6M89.3 521.6L94.5 516.4M89.6 515.7L94.8 520.9M89.6 520.9L94.8 515.7M89.9 524.4L95.1 529.6M89.9 529.6L95.1 524.4M90.2 495.8L95.4 501.0M90.2 501.0L95.4 495.8M90.5 503.5L95.7 508.7M90.5 508.7L95.7 503.5M90.8 518.1L96.0 523.3M90.8 523.3L96.0 518.1M91.0 520.9L96.2 526.1M91.0 526.1L96.2 520.9M91.3 525.0L96.5 530.2M91.3 530.2L96.5 525.0M91.6 525.9L96.8 531.1M91.6 531.1L96.8 525.9M91.9 557.1L97.1 562.3M91.9 562.3L97.1 557.1M92.2 549.3L97.4 554.5M92.2 554.5L97.4 549.3M92.5 528.6L97.7 533.8M92.5 533.8L97.7 528.6M92.8 542.4L98.0 547.6M92.8 547.6L98.0 542.4M93.1 538.0L98.3 543.2M93.1 543.2L98.3 538.0M93.4 524.5L98.6 529.7M93.4 529.7L98.6 524.5M93.7 518.7L98.9 523.9M93.7 523.9L98.9 518.7M94.0 507.7L99.2 512.9M94.0 512.9L99.2 507.7M94.3 537.8L99.5 543.0M94.3 543.0L99.5 537.8M94.6 485.5L99.8 490.7M94.6 490.7L99.8 485.5M94.9 539.6L100.1 544.8M94.9 544.8L100.1 539.6M95.2 529.0L100.4 534.2M95.2 534.2L100.4 529.0M95.5 517.9L100.7 523.1M95.5 523.1L100.7 517.9M95.8 554.5L101.0 559.7M95.8 559.7L101.0 554.5M96.1 531.9L101.3 537.1M96.1 537.1L101.3 531.9M96.4 548.2L101.6 553.4M96.4 553.4L101.6 548.2M96.7 533.1L101.9 538.3M96.7 538.3L101.9 533.1M97.0 549.4L102.2 554.6M97.0 554.6L102.2 549.4M97.3 539.5L102.5 544.7M97.3 544.7L102.5 539.5M97.6 522.5L102.8 527.7M97.6 527.7L102.8 522.5M97.9 528.3L103.1 533.5M97.9 533.5L103.1 528.3M98.1 527.7L103.3 532.9M98.1 532.9L103.3 527.7M98.4 520.5L103.6 525.7M98.4 525.7L103.6 520.5M98.7 524.0L103.9 529.2M98.7 529.2L103.9 524.0M99.0 528.5L104.2 533.7M99.0 533.7L104.2 528.5M99.3 512.6L104.5 517.8M99.3 517.8L104.5 512.6M99.6 507.4L104.8 512.6M99.6 512.6L104.8 507.4M99.9 518.8L105.1 524.0M99.9 524.0L105.1 518.8M100.2 489.8L105.4 495.0M100.2 495.0L105.4 489.8M100.5 517.1L105.7 522.3M100.5 522.3L105.7 517.1M100.8 507.8L106.0 513.0M100.8 513.0L106.0 507.8M101.1 515.2L106.3 520.4M101.1 520.4L106.3 515.2M101.4 513.9L106.6 519.1M101.4 519.1L106.6 513.9M101.7 505.8L106.9 511.0M101.7 511.0L106.9 505.8M102.0 461.9L107.2 467.1M102.0 467.1L107.2 461.9M102.3 502.3L107.5 507.5M102.3 507.5L107.5 502.3M102.6 524.9L107.8 530.1M102.6 530.1L107.8 524.9M102.9 537.1L108.1 542.3M102.9 542.3L108.1 537.1M103.2 519.8L108.4 525.0M103.2 525.0L108.4 519.8M103.5 528.1L108.7 533.3M103.5 533.3L108.7 528.1M103.8 533.4L109.0 538.6M103.8 538.6L109.0 533.4M104.1 541.3L109.3 546.5M104.1 546.5L109.3 541.3M104.4 514.7L109.6 519.9M104.4 519.9L109.6 514.7M104.7 506.0L109.9 511.2M104.7 511.2L109.9 506.0M105.0 492.9L110.2 498.1M105.0 498.1L110.2 492.9M105.2 513.0L110.4 518.2M105.2 518.2L110.4 513.0M105.5 515.9L110.7 521.1M105.5 521.1L110.7 515.9M105.8 566.2L111.0 571.4M105.8 571.4L111.0 566.2M106.1 519.5L111.3 524.7M106.1 524.7L111.3 519.5M106.4 504.7L111.6 509.9M106.4 509.9L111.6 504.7M106.7 525.7L111.9 530.9M106.7 530.9L111.9 525.7M107.0 510.6L112.2 515.8M107.0 515.8L112.2 510.6M107.3 509.9L112.5 515.1M107.3 515.1L112.5 509.9M107.6 523.8L112.8 529.0M107.6 529.0L112.8 523.8M107.9 552.8L113.1 558.0M107.9 558.0L113.1 552.8M108.2 529.2L113.4 534.4M108.2 534.4L113.4 529.2M108.5 533.2L113.7 538.4M108.5 538.4L113.7 533.2M108.8 541.1L114.0 546.3M108.8 546.3L114.0 541.1M109.1 534.2L114.3 539.4M109.1 539.4L114.3 534.2M109.4 530.2L114.6 535.4M109.4 535.4L114.6 530.2M109.7 515.7L114.9 520.9M109.7 520.9L114.9 515.7M110.0 536.3L115.2 541.5M110.0 541.5L115.2 536.3M110.3 523.1L115.5 528.3M110.3 528.3L115.5 523.1M110.6 512.0L115.8 517.2M110.6 517.2L115.8 512.0M110.9 506.2L116.1 511.4M110.9 511.4L116.1 506.2M111.2 521.5L116.4 526.7M111.2 526.7L116.4 521.5M111.5 536.3L116.7 541.5M111.5 541.5L116.7 536.3M111.8 524.5L117.0 529.7M111.8 529.7L117.0 524.5M112.1 528.2L117.3 533.4M112.1 533.4L117.3 528.2M112.3 530.2L117.5 535.4M112.3 535.4L117.5 530.2M112.6 516.5L117.8 521.7M112.6 521.7L117.8 516.5M112.9 528.1L118.1 533.3M112.9 533.3L118.1 528.1M113.2 557.5L118.4 562.7M113.2 562.7L118.4 557.5M113.5 552.1L118.7 557.3M113.5 557.3L118.7 552.1M113.8 565.7L119.0 570.9M113.8 570.9L119.0 565.7M114.1 542.9L119.3 548.1M114.1 548.1L119.3 542.9M114.4 536.1L119.6 541.3M114.4 541.3L119.6 536.1M114.7 542.8L119.9 548.0M114.7 548.0L119.9 542.8M115.0 539.7L120.2 544.9M115.0 544.9L120.2 539.7M115.3 528.5L120.5 533.7M115.3 533.7L120.5 528.5M115.6 530.8L120.8 536.0M115.6 536.0L120.8 530.8M115.9 518.0L121.1 523.2M115.9 523.2L121.1 518.0M116.2 526.7L121.4 531.9M116.2 531.9L121.4 526.7M116.5 519.0L121.7 524.2M116.5 524.2L121.7 519.0M116.8 509.6L122.0 514.8M116.8 514.8L122.0 509.6M117.1 503.1L122.3 508.3M117.1 508.3L122.3 503.1M117.4 525.4L122.6 530.6M117.4 530.6L122.6 525.4M117.7 520.1L122.9 525.3M117.7 525.3L122.9 520.1M118.0 548.3L123.2 553.5M118.0 553.5L123.2 548.3M118.3 554.9L123.5 560.1M118.3 560.1L123.5 554.9M118.6 568.5L123.8 573.7M118.6 573.7L123.8 568.5M118.9 541.6L124.1 546.8M118.9 546.8L124.1 541.6M119.2 552.9L124.3 558.1M119.2 558.1L124.3 552.9M119.4 545.3L124.6 550.5M119.4 550.5L124.6 545.3M119.7 543.2L124.9 548.4M119.7 548.4L124.9 543.2M120.0 540.1L125.2 545.3M120.0 545.3L125.2 540.1M120.3 544.8L125.5 550.0M120.3 550.0L125.5 544.8M120.6 538.1L125.8 543.3M120.6 543.3L125.8 538.1M120.9 516.7L126.1 521.9M120.9 521.9L126.1 516.7M121.2 524.8L126.4 530.0M121.2 530.0L126.4 524.8M121.5 523.7L126.7 528.9M121.5 528.9L126.7 523.7M121.8 517.8L127.0 523.0M121.8 523.0L127.0 517.8M122.1 528.1L127.3 533.3M122.1 533.3L127.3 528.1M122.4 545.8L127.6 551.0M122.4 551.0L127.6 545.8M122.7 547.5L127.9 552.7M122.7 552.7L127.9 547.5M123.0 530.0L128.2 535.2M123.0 535.2L128.2 530.0M123.3 551.2L128.5 556.4M123.3 556.4L128.5 551.2M123.6 551.0L128.8 556.2M123.6 556.2L128.8 551.0M123.9 532.7L129.1 537.9M123.9 537.9L129.1 532.7M124.2 525.1L129.4 530.3M124.2 530.3L129.4 525.1M124.5 529.8L129.7 535.0M124.5 535.0L129.7 529.8M124.8 523.3L130.0 528.5M124.8 528.5L130.0 523.3M125.1 527.0L130.3 532.2M125.1 532.2L130.3 527.0M125.4 544.3L130.6 549.5M125.4 549.5L130.6 544.3M125.7 558.1L130.9 563.3M125.7 563.3L130.9 558.1M126.0 555.2L131.2 560.4M126.0 560.4L131.2 555.2M126.2 536.0L131.4 541.2M126.2 541.2L131.4 536.0M126.5 542.3L131.7 547.5M126.5 547.5L131.7 542.3M126.8 549.5L132.0 554.7M126.8 554.7L132.0 549.5M127.1 566.2L132.3 571.4M127.1 571.4L132.3 566.2M127.4 562.0L132.6 567.2M127.4 567.2L132.6 562.0M127.7 551.5L132.9 556.7M127.7 556.7L132.9 551.5M128.0 557.7L133.2 562.9M128.0 562.9L133.2 557.7M128.3 543.7L133.5 548.9M128.3 548.9L133.5 543.7M128.6 566.8L133.8 572.0M128.6 572.0L133.8 566.8M128.9 549.1L134.1 554.3M128.9 554.3L134.1 549.1M129.2 550.3L134.4 555.5M129.2 555.5L134.4 550.3M129.5 565.7L134.7 570.9M129.5 570.9L134.7 565.7M129.8 543.1L135.0 548.3M129.8 548.3L135.0 543.1M130.1 567.2L135.3 572.4M130.1 572.4L135.3 567.2M130.4 562.5L135.6 567.7M130.4 567.7L135.6 562.5M130.7 558.3L135.9 563.5M130.7 563.5L135.9 558.3M131.0 542.4L136.2 547.6M131.0 547.6L136.2 542.4M131.3 541.7L136.5 546.9M131.3 546.9L136.5 541.7M131.6 526.9L136.8 532.1M131.6 532.1L136.8 526.9M131.9 518.8L137.1 524.0M131.9 524.0L137.1 518.8M132.2 514.8L137.4 520.0M132.2 520.0L137.4 514.8M132.5 517.0L137.7 522.2M132.5 522.2L137.7 517.0M132.8 506.8L138.0 512.0M132.8 512.0L138.0 506.8M133.1 508.8L138.3 514.0M133.1 514.0L138.3 508.8M133.3 512.2L138.5 517.4M133.3 517.4L138.5 512.2M133.6 542.8L138.8 548.0M133.6 548.0L138.8 542.8M133.9 497.3L139.1 502.5M133.9 502.5L139.1 497.3M134.2 512.0L139.4 517.2M134.2 517.2L139.4 512.0M134.5 522.5L139.7 527.7M134.5 527.7L139.7 522.5M134.8 530.2L140.0 535.4M134.8 535.4L140.0 530.2M135.1 507.2L140.3 512.4M135.1 512.4L140.3 507.2M135.4 536.4L140.6 541.6M135.4 541.6L140.6 536.4M135.7 527.2L140.9 532.4M135.7 532.4L140.9 527.2M136.0 500.1L141.2 505.3M136.0 505.3L141.2 500.1M136.3 523.0L141.5 528.2M136.3 528.2L141.5 523.0M136.6 517.4L141.8 522.6M136.6 522.6L141.8 517.4M136.9 500.7L142.1 505.9M136.9 505.9L142.1 500.7M137.2 514.3L142.4 519.5M137.2 519.5L142.4 514.3M137.5 514.0L142.7 519.2M137.5 519.2L142.7 514.0M137.8 510.0L143.0 515.2M137.8 515.2L143.0 510.0M138.1 528.3L143.3 533.5M138.1 533.5L143.3 528.3M138.4 529.1L143.6 534.3M138.4 534.3L143.6 529.1M138.7 525.2L143.9 530.4M138.7 530.4L143.9 525.2M139.0 517.0L144.2 522.2M139.0 522.2L144.2 517.0M139.3 522.3L144.5 527.5M139.3 527.5L144.5 522.3M139.6 527.0L144.8 532.2M139.6 532.2L144.8 527.0M139.9 538.9L145.1 544.1M139.9 544.1L145.1 538.9M140.2 538.0L145.4 543.2M140.2 543.2L145.4 538.0M140.4 523.3L145.6 528.5M140.4 528.5L145.6 523.3M140.7 524.2L145.9 529.4M140.7 529.4L145.9 524.2M141.0 535.5L146.2 540.7M141.0 540.7L146.2 535.5M141.3 541.6L146.5 546.8M141.3 546.8L146.5 541.6M141.6 505.2L146.8 510.4M141.6 510.4L146.8 505.2M141.9 502.5L147.1 507.7M141.9 507.7L147.1 502.5M142.2 506.7L147.4 511.9M142.2 511.9L147.4 506.7M142.5 545.5L147.7 550.7M142.5 550.7L147.7 545.5M142.8 530.5L148.0 535.7M142.8 535.7L148.0 530.5M143.1 523.9L148.3 529.1M143.1 529.1L148.3 523.9M143.4 506.6L148.6 511.8M143.4 511.8L148.6 506.6M143.7 511.3L148.9 516.5M143.7 516.5L148.9 511.3M144.0 519.5L149.2 524.7M144.0 524.7L149.2 519.5M144.3 517.3L149.5 522.5M144.3 522.5L149.5 517.3M144.6 544.1L149.8 549.3M144.6 549.3L149.8 544.1M144.9 525.1L150.1 530.3M144.9 530.3L150.1 525.1M145.2 522.6L150.4 527.8M145.2 527.8L150.4 522.6M145.5 532.9L150.7 538.1M145.5 538.1L150.7 532.9M145.8 515.6L151.0 520.8M145.8 520.8L151.0 515.6M146.1 500.6L151.3 505.8M146.1 505.8L151.3 500.6M146.4 528.7L151.6 533.9M146.4 533.9L151.6 528.7M146.7 535.9L151.9 541.1M146.7 541.1L151.9 535.9M147.0 528.9L152.2 534.1M147.0 534.1L152.2 528.9M147.3 526.4L152.5 531.6M147.3 531.6L152.5 526.4M147.5 531.5L152.7 536.7M147.5 536.7L152.7 531.5M147.8 540.9L153.0 546.1M147.8 546.1L153.0 540.9M148.1 511.0L153.3 516.2M148.1 516.2L153.3 511.0M148.4 506.8L153.6 512.0M148.4 512.0L153.6 506.8M148.7 529.8L153.9 535.0M148.7 535.0L153.9 529.8M149.0 544.1L154.2 549.3M149.0 549.3L154.2 544.1M149.3 517.5L154.5 522.7M149.3 522.7L154.5 517.5M149.6 511.0L154.8 516.2M149.6 516.2L154.8 511.0M149.9 498.2L155.1 503.4M149.9 503.4L155.1 498.2M150.2 502.7L155.4 507.9M150.2 507.9L155.4 502.7M150.5 524.3L155.7 529.5M150.5 529.5L155.7 524.3M150.8 523.4L156.0 528.6M150.8 528.6L156.0 523.4M151.1 550.5L156.3 555.7M151.1 555.7L156.3 550.5M151.4 549.4L156.6 554.6M151.4 554.6L156.6 549.4M151.7 541.2L156.9 546.4M151.7 546.4L156.9 541.2M152.0 530.2L157.2 535.4M152.0 535.4L157.2 530.2M152.3 538.3L157.5 543.5M152.3 543.5L157.5 538.3M152.6 535.9L157.8 541.1M152.6 541.1L157.8 535.9M152.9 528.0L158.1 533.2M152.9 533.2L158.1 528.0M153.2 524.5L158.4 529.7M153.2 529.7L158.4 524.5M153.5 519.7L158.7 524.9M153.5 524.9L158.7 519.7M153.8 521.9L159.0 527.1M153.8 527.1L159.0 521.9M154.1 529.1L159.3 534.3M154.1 534.3L159.3 529.1M154.4 520.5L159.6 525.7M154.4 525.7L159.6 520.5M154.6 524.1L159.8 529.3M154.6 529.3L159.8 524.1M154.9 536.0L160.1 541.2M154.9 541.2L160.1 536.0M155.2 540.3L160.4 545.5M155.2 545.5L160.4 540.3M155.5 535.6L160.7 540.8M155.5 540.8L160.7 535.6M155.8 534.2L161.0 539.4M155.8 539.4L161.0 534.2M156.1 530.4L161.3 535.6M156.1 535.6L161.3 530.4M156.4 530.2L161.6 535.4M156.4 535.4L161.6 530.2M156.7 528.0L161.9 533.2M156.7 533.2L161.9 528.0M157.0 530.3L162.2 535.5M157.0 535.5L162.2 530.3M157.3 544.3L162.5 549.5M157.3 549.5L162.5 544.3M157.6 533.0L162.8 538.2M157.6 538.2L162.8 533.0M157.9 519.6L163.1 524.8M157.9 524.8L163.1 519.6M158.2 519.3L163.4 524.5M158.2 524.5L163.4 519.3M158.5 526.2L163.7 531.4M158.5 531.4L163.7 526.2M158.8 522.7L164.0 527.9M158.8 527.9L164.0 522.7M159.1 536.8L164.3 542.0M159.1 542.0L164.3 536.8M159.4 555.1L164.6 560.3M159.4 560.3L164.6 555.1M159.7 543.0L164.9 548.2M159.7 548.2L164.9 543.0M160.0 546.1L165.2 551.3M160.0 551.3L165.2 546.1M160.3 528.2L165.5 533.4M160.3 533.4L165.5 528.2M160.6 538.3L165.8 543.5M160.6 543.5L165.8 538.3M160.9 560.6L166.1 565.8M160.9 565.8L166.1 560.6M161.2 554.2L166.4 559.4M161.2 559.4L166.4 554.2M161.4 520.4L166.6 525.6M161.4 525.6L166.6 520.4M161.7 523.3L166.9 528.5M161.7 528.5L166.9 523.3M162.0 535.3L167.2 540.5M162.0 540.5L167.2 535.3M162.3 534.4L167.5 539.6M162.3 539.6L167.5 534.4M162.6 520.3L167.8 525.5M162.6 525.5L167.8 520.3M162.9 512.7L168.1 517.9M162.9 517.9L168.1 512.7M163.2 512.2L168.4 517.4M163.2 517.4L168.4 512.2M163.5 497.1L168.7 502.3M163.5 502.3L168.7 497.1M163.8 497.6L169.0 502.8M163.8 502.8L169.0 497.6M164.1 506.1L169.3 511.3M164.1 511.3L169.3 506.1M164.4 503.8L169.6 509.0M164.4 509.0L169.6 503.8M164.7 490.6L169.9 495.8M164.7 495.8L169.9 490.6M165.0 491.0L170.2 496.2M165.0 496.2L170.2 491.0M165.3 490.7L170.5 495.9M165.3 495.9L170.5 490.7M165.6 514.3L170.8 519.5M165.6 519.5L170.8 514.3M165.9 516.8L171.1 522.0M165.9 522.0L171.1 516.8M166.2 508.2L171.4 513.4M166.2 513.4L171.4 508.2M166.5 515.1L171.7 520.3M166.5 520.3L171.7 515.1M166.8 503.4L172.0 508.6M166.8 508.6L172.0 503.4M167.1 502.3L172.3 507.5M167.1 507.5L172.3 502.3M167.4 498.2L172.6 503.4M167.4 503.4L172.6 498.2M167.7 508.6L172.9 513.8M167.7 513.8L172.9 508.6M168.0 483.1L173.2 488.3M168.0 488.3L173.2 483.1M168.3 483.9L173.5 489.1M168.3 489.1L173.5 483.9M168.5 500.8L173.7 506.0M168.5 506.0L173.7 500.8M168.8 506.6L174.0 511.8M168.8 511.8L174.0 506.6M169.1 481.5L174.3 486.7M169.1 486.7L174.3 481.5M169.4 500.9L174.6 506.1M169.4 506.1L174.6 500.9M169.7 497.8L174.9 503.0M169.7 503.0L174.9 497.8M170.0 494.9L175.2 500.1M170.0 500.1L175.2 494.9M170.3 504.3L175.5 509.5M170.3 509.5L175.5 504.3M170.6 522.8L175.8 528.0M170.6 528.0L175.8 522.8M170.9 517.6L176.1 522.8M170.9 522.8L176.1 517.6M171.2 512.8L176.4 518.0M171.2 518.0L176.4 512.8M171.5 501.5L176.7 506.7M171.5 506.7L176.7 501.5M171.8 499.2L177.0 504.4M171.8 504.4L177.0 499.2M172.1 506.5L177.3 511.7M172.1 511.7L177.3 506.5M172.4 501.1L177.6 506.3M172.4 506.3L177.6 501.1M172.7 501.7L177.9 506.9M172.7 506.9L177.9 501.7M173.0 505.8L178.2 511.0M173.0 511.0L178.2 505.8M173.3 509.8L178.5 515.0M173.3 515.0L178.5 509.8M173.6 514.7L178.8 519.9M173.6 519.9L178.8 514.7M173.9 506.6L179.1 511.8M173.9 511.8L179.1 506.6M174.2 521.5L179.4 526.7M174.2 526.7L179.4 521.5M174.5 524.6L179.7 529.8M174.5 529.8L179.7 524.6M174.8 518.8L180.0 524.0M174.8 524.0L180.0 518.8M175.1 532.0L180.3 537.2M175.1 537.2L180.3 532.0M175.4 475.7L180.6 480.9M175.4 480.9L180.6 475.7M175.6 542.2L180.8 547.4M175.6 547.4L180.8 542.2M175.9 535.1L181.1 540.3M175.9 540.3L181.1 535.1M176.2 517.4L181.4 522.6M176.2 522.6L181.4 517.4M176.5 507.7L181.7 512.9M176.5 512.9L181.7 507.7M176.8 509.4L182.0 514.6M176.8 514.6L182.0 509.4M177.1 512.4L182.3 517.6M177.1 517.6L182.3 512.4M177.4 527.4L182.6 532.6M177.4 532.6L182.6 527.4M177.7 498.9L182.9 504.1M177.7 504.1L182.9 498.9M178.0 498.1L183.2 503.3M178.0 503.3L183.2 498.1M178.3 491.1L183.5 496.3M178.3 496.3L183.5 491.1M178.6 509.7L183.8 514.9M178.6 514.9L183.8 509.7M178.9 512.0L184.1 517.2M178.9 517.2L184.1 512.0M179.2 531.7L184.4 536.9M179.2 536.9L184.4 531.7M179.5 513.2L184.7 518.4M179.5 518.4L184.7 513.2M179.8 501.2L185.0 506.4M179.8 506.4L185.0 501.2M180.1 526.7L185.3 531.9M180.1 531.9L185.3 526.7M180.4 519.8L185.6 525.0M180.4 525.0L185.6 519.8M180.7 508.3L185.9 513.5M180.7 513.5L185.9 508.3M181.0 529.1L186.2 534.3M181.0 534.3L186.2 529.1M181.3 541.2L186.5 546.4M181.3 546.4L186.5 541.2M181.6 539.3L186.8 544.5M181.6 544.5L186.8 539.3M181.9 533.3L187.1 538.5M181.9 538.5L187.1 533.3M182.2 538.7L187.4 543.9M182.2 543.9L187.4 538.7M182.5 525.5L187.7 530.7M182.5 530.7L187.7 525.5M182.7 515.7L187.9 520.9M182.7 520.9L187.9 515.7M183.0 506.0L188.2 511.2M183.0 511.2L188.2 506.0M183.3 499.9L188.5 505.1M183.3 505.1L188.5 499.9M183.6 487.5L188.8 492.7M183.6 492.7L188.8 487.5M183.9 484.5L189.1 489.7M183.9 489.7L189.1 484.5M184.2 544.5L189.4 549.7M184.2 549.7L189.4 544.5M184.5 516.2L189.7 521.4M184.5 521.4L189.7 516.2M184.8 525.5L190.0 530.7M184.8 530.7L190.0 525.5M185.1 530.7L190.3 535.9M185.1 535.9L190.3 530.7M185.4 522.4L190.6 527.6M185.4 527.6L190.6 522.4M185.7 516.8L190.9 522.0M185.7 522.0L190.9 516.8M186.0 508.2L191.2 513.4M186.0 513.4L191.2 508.2M186.3 527.0L191.5 532.2M186.3 532.2L191.5 527.0M186.6 533.4L191.8 538.6M186.6 538.6L191.8 533.4M186.9 523.2L192.1 528.4M186.9 528.4L192.1 523.2M187.2 519.6L192.4 524.8M187.2 524.8L192.4 519.6M187.5 518.8L192.7 524.0M187.5 524.0L192.7 518.8M187.8 515.6L193.0 520.8M187.8 520.8L193.0 515.6M188.1 521.7L193.3 526.9M188.1 526.9L193.3 521.7M188.4 508.6L193.6 513.8M188.4 513.8L193.6 508.6M188.7 505.3L193.9 510.5M188.7 510.5L193.9 505.3M189.0 508.4L194.2 513.6M189.0 513.6L194.2 508.4M189.3 516.8L194.5 522.0M189.3 522.0L194.5 516.8M189.6 515.8L194.8 521.0M189.6 521.0L194.8 515.8M189.8 544.0L195.0 549.2M189.8 549.2L195.0 544.0M190.1 539.9L195.3 545.1M190.1 545.1L195.3 539.9M190.4 526.0L195.6 531.2M190.4 531.2L195.6 526.0M190.7 535.9L195.9 541.1M190.7 541.1L195.9 535.9M191.0 521.6L196.2 526.8M191.0 526.8L196.2 521.6M191.3 514.1L196.5 519.3M191.3 519.3L196.5 514.1M191.6 527.1L196.8 532.3M191.6 532.3L196.8 527.1M191.9 521.2L197.1 526.4M191.9 526.4L197.1 521.2M192.2 518.6L197.4 523.8M192.2 523.8L197.4 518.6M192.5 508.1L197.7 513.3M192.5 513.3L197.7 508.1M192.8 500.5L198.0 505.7M192.8 505.7L198.0 500.5M193.1 503.4L198.3 508.6M193.1 508.6L198.3 503.4M193.4 514.0L198.6 519.2M193.4 519.2L198.6 514.0M193.7 512.1L198.9 517.3M193.7 517.3L198.9 512.1M194.0 510.2L199.2 515.4M194.0 515.4L199.2 510.2M194.3 500.1L199.5 505.3M194.3 505.3L199.5 500.1M194.6 499.5L199.8 504.7M194.6 504.7L199.8 499.5M194.9 510.7L200.1 515.9M194.9 515.9L200.1 510.7M195.2 524.0L200.4 529.2M195.2 529.2L200.4 524.0M195.5 520.2L200.7 525.4M195.5 525.4L200.7 520.2M195.8 522.3L201.0 527.5M195.8 527.5L201.0 522.3M196.1 527.6L201.3 532.8M196.1 532.8L201.3 527.6M196.4 519.3L201.6 524.5M196.4 524.5L201.6 519.3M196.6 518.9L201.8 524.1M196.6 524.1L201.8 518.9M196.9 512.0L202.1 517.2M196.9 517.2L202.1 512.0M197.2 503.5L202.4 508.7M197.2 508.7L202.4 503.5M197.5 509.4L202.7 514.6M197.5 514.6L202.7 509.4M197.8 481.6L203.0 486.8M197.8 486.8L203.0 481.6M198.1 496.3L203.3 501.5M198.1 501.5L203.3 496.3M198.4 488.3L203.6 493.5M198.4 493.5L203.6 488.3M198.7 495.0L203.9 500.2M198.7 500.2L203.9 495.0M199.0 475.7L204.2 480.9M199.0 480.9L204.2 475.7M199.3 522.7L204.5 527.9M199.3 527.9L204.5 522.7M199.6 523.8L204.8 529.0M199.6 529.0L204.8 523.8M199.9 513.1L205.1 518.3M199.9 518.3L205.1 513.1M200.2 503.1L205.4 508.3M200.2 508.3L205.4 503.1M200.5 478.1L205.7 483.3M200.5 483.3L205.7 478.1M200.8 487.1L206.0 492.3M200.8 492.3L206.0 487.1M201.1 481.2L206.3 486.4M201.1 486.4L206.3 481.2M201.4 486.0L206.6 491.2M201.4 491.2L206.6 486.0M201.7 487.7L206.9 492.9M201.7 492.9L206.9 487.7M202.0 494.6L207.2 499.8M202.0 499.8L207.2 494.6M202.3 507.0L207.5 512.2M202.3 512.2L207.5 507.0M202.6 507.3L207.8 512.5M202.6 512.5L207.8 507.3M202.9 526.4L208.1 531.6M202.9 531.6L208.1 526.4M203.2 512.4L208.4 517.6M203.2 517.6L208.4 512.4M203.5 530.7L208.7 535.9M203.5 535.9L208.7 530.7M203.7 527.4L208.9 532.6M203.7 532.6L208.9 527.4M204.0 503.1L209.2 508.3M204.0 508.3L209.2 503.1M204.3 516.3L209.5 521.5M204.3 521.5L209.5 516.3M204.6 520.8L209.8 526.0M204.6 526.0L209.8 520.8M204.9 510.4L210.1 515.6M204.9 515.6L210.1 510.4M205.2 517.5L210.4 522.7M205.2 522.7L210.4 517.5M205.5 530.8L210.7 536.0M205.5 536.0L210.7 530.8M205.8 526.1L211.0 531.3M205.8 531.3L211.0 526.1M206.1 519.9L211.3 525.1M206.1 525.1L211.3 519.9M206.4 488.5L211.6 493.7M206.4 493.7L211.6 488.5M206.7 529.0L211.9 534.2M206.7 534.2L211.9 529.0M207.0 508.2L212.2 513.4M207.0 513.4L212.2 508.2M207.3 497.7L212.5 502.9M207.3 502.9L212.5 497.7M207.6 510.6L212.8 515.8M207.6 515.8L212.8 510.6M207.9 514.9L213.1 520.1M207.9 520.1L213.1 514.9M208.2 525.1L213.4 530.3M208.2 530.3L213.4 525.1M208.5 509.9L213.7 515.1M208.5 515.1L213.7 509.9M208.8 525.5L214.0 530.7M208.8 530.7L214.0 525.5M209.1 518.5L214.3 523.7M209.1 523.7L214.3 518.5M209.4 527.7L214.6 532.9M209.4 532.9L214.6 527.7M209.7 535.1L214.9 540.3M209.7 540.3L214.9 535.1M210.0 523.3L215.2 528.5M210.0 528.5L215.2 523.3M210.3 509.8L215.5 515.0M210.3 515.0L215.5 509.8M210.6 517.6L215.8 522.8M210.6 522.8L215.8 517.6M210.8 529.4L216.0 534.6M210.8 534.6L216.0 529.4M211.1 519.1L216.3 524.3M211.1 524.3L216.3 519.1M211.4 523.1L216.6 528.3M211.4 528.3L216.6 523.1M211.7 521.3L216.9 526.5M211.7 526.5L216.9 521.3M212.0 506.5L217.2 511.7M212.0 511.7L217.2 506.5M212.3 502.9L217.5 508.1M212.3 508.1L217.5 502.9M212.6 519.5L217.8 524.7M212.6 524.7L217.8 519.5M212.9 497.0L218.1 502.2M212.9 502.2L218.1 497.0M213.2 510.8L218.4 516.0M213.2 516.0L218.4 510.8M213.5 509.8L218.7 515.0M213.5 515.0L218.7 509.8M213.8 525.6L219.0 530.8M213.8 530.8L219.0 525.6M214.1 527.7L219.3 532.9M214.1 532.9L219.3 527.7M214.4 548.3L219.6 553.5M214.4 553.5L219.6 548.3M214.7 519.9L219.9 525.1M214.7 525.1L219.9 519.9M215.0 509.2L220.2 514.4M215.0 514.4L220.2 509.2M215.3 532.7L220.5 537.9M215.3 537.9L220.5 532.7M215.6 549.1L220.8 554.3M215.6 554.3L220.8 549.1M215.9 559.2L221.1 564.4M215.9 564.4L221.1 559.2M216.2 533.1L221.4 538.3M216.2 538.3L221.4 533.1M216.5 537.3L221.7 542.5M216.5 542.5L221.7 537.3M216.8 535.0L222.0 540.2M216.8 540.2L222.0 535.0M217.1 536.6L222.3 541.8M217.1 541.8L222.3 536.6M217.4 535.4L222.6 540.6M217.4 540.6L222.6 535.4M217.7 545.6L222.9 550.8M217.7 550.8L222.9 545.6M217.9 538.7L223.1 543.9M217.9 543.9L223.1 538.7M218.2 551.4L223.4 556.6M218.2 556.6L223.4 551.4M218.5 542.9L223.7 548.1M218.5 548.1L223.7 542.9M218.8 534.0L224.0 539.2M218.8 539.2L224.0 534.0M219.1 527.2L224.3 532.4M219.1 532.4L224.3 527.2M219.4 531.4L224.6 536.6M219.4 536.6L224.6 531.4M219.7 541.4L224.9 546.6M219.7 546.6L224.9 541.4M220.0 534.8L225.2 540.0M220.0 540.0L225.2 534.8M220.3 538.5L225.5 543.7M220.3 543.7L225.5 538.5M220.6 517.3L225.8 522.5M220.6 522.5L225.8 517.3M220.9 514.7L226.1 519.9M220.9 519.9L226.1 514.7M221.2 523.2L226.4 528.4M221.2 528.4L226.4 523.2M221.5 531.9L226.7 537.1M221.5 537.1L226.7 531.9M221.8 539.4L227.0 544.6M221.8 544.6L227.0 539.4M222.1 546.1L227.3 551.3M222.1 551.3L227.3 546.1M222.4 543.2L227.6 548.4M222.4 548.4L227.6 543.2M222.7 534.3L227.9 539.5M222.7 539.5L227.9 534.3M223.0 526.9L228.2 532.1M223.0 532.1L228.2 526.9M223.3 522.2L228.5 527.4M223.3 527.4L228.5 522.2M223.6 502.3L228.8 507.5M223.6 507.5L228.8 502.3M223.9 523.1L229.1 528.3M223.9 528.3L229.1 523.1M224.2 526.4L229.4 531.6M224.2 531.6L229.4 526.4M224.5 496.7L229.7 501.9M224.5 501.9L229.7 496.7M224.8 533.2L230.0 538.4M224.8 538.4L230.0 533.2M225.0 538.0L230.2 543.2M225.0 543.2L230.2 538.0M225.3 530.7L230.5 535.9M225.3 535.9L230.5 530.7M225.6 558.3L230.8 563.5M225.6 563.5L230.8 558.3M225.9 519.4L231.1 524.6M225.9 524.6L231.1 519.4M226.2 522.2L231.4 527.4M226.2 527.4L231.4 522.2M226.5 516.0L231.7 521.2M226.5 521.2L231.7 516.0M226.8 515.1L232.0 520.3M226.8 520.3L232.0 515.1M227.1 505.5L232.3 510.7M227.1 510.7L232.3 505.5M227.4 529.5L232.6 534.7M227.4 534.7L232.6 529.5M227.7 530.3L232.9 535.5M227.7 535.5L232.9 530.3M228.0 521.9L233.2 527.1M228.0 527.1L233.2 521.9M228.3 528.9L233.5 534.1M228.3 534.1L233.5 528.9M228.6 532.9L233.8 538.1M228.6 538.1L233.8 532.9M228.9 516.2L234.1 521.4M228.9 521.4L234.1 516.2M229.2 521.5L234.4 526.7M229.2 526.7L234.4 521.5M229.5 509.8L234.7 515.0M229.5 515.0L234.7 509.8M229.8 502.2L235.0 507.4M229.8 507.4L235.0 502.2M230.1 502.9L235.3 508.1M230.1 508.1L235.3 502.9M230.4 501.1L235.6 506.3M230.4 506.3L235.6 501.1M230.7 507.0L235.9 512.2M230.7 512.2L235.9 507.0M231.0 525.0L236.2 530.2M231.0 530.2L236.2 525.0M231.3 519.3L236.5 524.5M231.3 524.5L236.5 519.3M231.6 510.7L236.8 515.9M231.6 515.9L236.8 510.7M231.8 517.1L237.0 522.3M231.8 522.3L237.0 517.1M232.1 515.7L237.3 520.9M232.1 520.9L237.3 515.7M232.4 505.4L237.6 510.6M232.4 510.6L237.6 505.4M232.7 518.1L237.9 523.3M232.7 523.3L237.9 518.1M233.0 507.9L238.2 513.1M233.0 513.1L238.2 507.9M233.3 488.5L238.5 493.7M233.3 493.7L238.5 488.5M233.6 505.2L238.8 510.4M233.6 510.4L238.8 505.2M233.9 506.4L239.1 511.6M233.9 511.6L239.1 506.4M234.2 510.4L239.4 515.6M234.2 515.6L239.4 510.4M234.5 483.5L239.7 488.7M234.5 488.7L239.7 483.5M234.8 498.1L240.0 503.3M234.8 503.3L240.0 498.1M235.1 494.0L240.3 499.2M235.1 499.2L240.3 494.0M235.4 509.7L240.6 514.9M235.4 514.9L240.6 509.7M235.7 510.7L240.9 515.9M235.7 515.9L240.9 510.7M236.0 511.2L241.2 516.4M236.0 516.4L241.2 511.2M236.3 531.5L241.5 536.7M236.3 536.7L241.5 531.5M236.6 506.2L241.8 511.4M236.6 511.4L241.8 506.2M236.9 498.5L242.1 503.7M236.9 503.7L242.1 498.5M237.2 524.2L242.4 529.4M237.2 529.4L242.4 524.2M237.5 510.1L242.7 515.3M237.5 515.3L242.7 510.1M237.8 512.2L243.0 517.4M237.8 517.4L243.0 512.2M238.1 506.9L243.3 512.1M238.1 512.1L243.3 506.9M238.4 504.8L243.6 510.0M238.4 510.0L243.6 504.8M238.7 524.8L243.9 530.0M238.7 530.0L243.9 524.8M238.9 521.3L244.1 526.5M238.9 526.5L244.1 521.3M239.2 500.0L244.4 505.2M239.2 505.2L244.4 500.0M239.5 511.7L244.7 516.9M239.5 516.9L244.7 511.7M239.8 523.2L245.0 528.4M239.8 528.4L245.0 523.2M240.1 533.4L245.3 538.6M240.1 538.6L245.3 533.4M240.4 537.4L245.6 542.6M240.4 542.6L245.6 537.4M240.7 522.0L245.9 527.2M240.7 527.2L245.9 522.0M241.0 498.1L246.2 503.3M241.0 503.3L246.2 498.1M241.3 499.3L246.5 504.5M241.3 504.5L246.5 499.3M241.6 502.1L246.8 507.3M241.6 507.3L246.8 502.1M241.9 481.1L247.1 486.3M241.9 486.3L247.1 481.1M242.2 500.7L247.4 505.9M242.2 505.9L247.4 500.7M242.5 513.2L247.7 518.4M242.5 518.4L247.7 513.2M242.8 506.5L248.0 511.7M242.8 511.7L248.0 506.5M243.1 502.6L248.3 507.8M243.1 507.8L248.3 502.6M243.4 518.1L248.6 523.3M243.4 523.3L248.6 518.1M243.7 528.4L248.9 533.6M243.7 533.6L248.9 528.4M244.0 517.5L249.2 522.7M244.0 522.7L249.2 517.5M244.3 512.1L249.5 517.3M244.3 517.3L249.5 512.1M244.6 526.6L249.8 531.8M244.6 531.8L249.8 526.6M244.9 522.2L250.1 527.4M244.9 527.4L250.1 522.2M245.2 523.5L250.4 528.7M245.2 528.7L250.4 523.5M245.5 513.0L250.7 518.2M245.5 518.2L250.7 513.0M245.8 513.7L251.0 518.9M245.8 518.9L251.0 513.7M246.0 513.7L251.2 518.9M246.0 518.9L251.2 513.7M246.3 516.7L251.5 521.9M246.3 521.9L251.5 516.7M246.6 502.5L251.8 507.7M246.6 507.7L251.8 502.5M246.9 490.9L252.1 496.1M246.9 496.1L252.1 490.9M247.2 504.3L252.4 509.5M247.2 509.5L252.4 504.3M247.5 498.0L252.7 503.2M247.5 503.2L252.7 498.0M247.8 512.7L253.0 517.9M247.8 517.9L253.0 512.7M248.1 511.4L253.3 516.6M248.1 516.6L253.3 511.4M248.4 503.0L253.6 508.2M248.4 508.2L253.6 503.0M248.7 489.7L253.9 494.9M248.7 494.9L253.9 489.7M249.0 503.9L254.2 509.1M249.0 509.1L254.2 503.9M249.3 508.2L254.5 513.4M249.3 513.4L254.5 508.2M249.6 507.5L254.8 512.7M249.6 512.7L254.8 507.5M249.9 526.3L255.1 531.5M249.9 531.5L255.1 526.3M250.2 519.5L255.4 524.7M250.2 524.7L255.4 519.5M250.5 523.6L255.7 528.8M250.5 528.8L255.7 523.6M250.8 514.0L256.0 519.2M250.8 519.2L256.0 514.0M251.1 527.7L256.3 532.9M251.1 532.9L256.3 527.7M251.4 545.8L256.6 551.0M251.4 551.0L256.6 545.8M251.7 533.8L256.9 539.0M251.7 539.0L256.9 533.8M252.0 525.6L257.2 530.8M252.0 530.8L257.2 525.6M252.3 531.2L257.5 536.4M252.3 536.4L257.5 531.2M252.6 518.9L257.8 524.1M252.6 524.1L257.8 518.9M252.9 526.2L258.1 531.4M252.9 531.4L258.1 526.2M253.1 534.9L258.3 540.1M253.1 540.1L258.3 534.9M253.4 528.3L258.6 533.5M253.4 533.5L258.6 528.3M253.7 546.7L258.9 551.9M253.7 551.9L258.9 546.7M254.0 546.8L259.2 552.0M254.0 552.0L259.2 546.8M254.3 539.4L259.5 544.6M254.3 544.6L259.5 539.4M254.6 525.4L259.8 530.6M254.6 530.6L259.8 525.4M254.9 529.2L260.1 534.4M254.9 534.4L260.1 529.2M255.2 526.0L260.4 531.2M255.2 531.2L260.4 526.0M255.5 535.1L260.7 540.3M255.5 540.3L260.7 535.1M255.8 529.3L261.0 534.5M255.8 534.5L261.0 529.3M256.1 510.7L261.3 515.9M256.1 515.9L261.3 510.7M256.4 527.1L261.6 532.3M256.4 532.3L261.6 527.1M256.7 564.2L261.9 569.4M256.7 569.4L261.9 564.2M257.0 521.5L262.2 526.7M257.0 526.7L262.2 521.5M257.3 523.1L262.5 528.3M257.3 528.3L262.5 523.1M257.6 521.3L262.8 526.5M257.6 526.5L262.8 521.3M257.9 509.8L263.1 515.0M257.9 515.0L263.1 509.8M258.2 528.2L263.4 533.4M258.2 533.4L263.4 528.2M258.5 547.2L263.7 552.4M258.5 552.4L263.7 547.2M258.8 526.1L264.0 531.3M258.8 531.3L264.0 526.1M259.1 511.5L264.3 516.7M259.1 516.7L264.3 511.5M259.4 504.5L264.6 509.7M259.4 509.7L264.6 504.5M259.7 477.1L264.9 482.3M259.7 482.3L264.9 477.1M260.0 490.5L265.2 495.7M260.0 495.7L265.2 490.5M260.2 497.3L265.4 502.5M260.2 502.5L265.4 497.3M260.5 493.5L265.7 498.7M260.5 498.7L265.7 493.5M260.8 497.7L266.0 502.9M260.8 502.9L266.0 497.7M261.1 485.3L266.3 490.5M261.1 490.5L266.3 485.3M261.4 511.4L266.6 516.6M261.4 516.6L266.6 511.4M261.7 515.9L266.9 521.1M261.7 521.1L266.9 515.9M262.0 553.2L267.2 558.4M262.0 558.4L267.2 553.2M262.3 525.5L267.5 530.7M262.3 530.7L267.5 525.5M262.6 490.4L267.8 495.6M262.6 495.6L267.8 490.4M262.9 508.0L268.1 513.2M262.9 513.2L268.1 508.0M263.2 485.5L268.4 490.7M263.2 490.7L268.4 485.5M263.5 497.5L268.7 502.7M263.5 502.7L268.7 497.5M263.8 506.9L269.0 512.1M263.8 512.1L269.0 506.9M264.1 514.9L269.3 520.1M264.1 520.1L269.3 514.9M264.4 523.1L269.6 528.3M264.4 528.3L269.6 523.1M264.7 525.3L269.9 530.5M264.7 530.5L269.9 525.3M265.0 512.1L270.2 517.3M265.0 517.3L270.2 512.1M265.3 511.7L270.5 516.9M265.3 516.9L270.5 511.7M265.6 511.1L270.8 516.3M265.6 516.3L270.8 511.1M265.9 513.5L271.1 518.7M265.9 518.7L271.1 513.5M266.2 502.5L271.4 507.7M266.2 507.7L271.4 502.5M266.5 501.2L271.7 506.4M266.5 506.4L271.7 501.2M266.8 507.7L272.0 512.9M266.8 512.9L272.0 507.7M267.0 502.2L272.2 507.4M267.0 507.4L272.2 502.2M267.3 508.3L272.5 513.5M267.3 513.5L272.5 508.3M267.6 523.1L272.8 528.3M267.6 528.3L272.8 523.1M267.9 501.7L273.1 506.9M267.9 506.9L273.1 501.7M268.2 501.1L273.4 506.3M268.2 506.3L273.4 501.1M268.5 516.9L273.7 522.1M268.5 522.1L273.7 516.9M268.8 502.5L274.0 507.7M268.8 507.7L274.0 502.5M269.1 502.9L274.3 508.1M269.1 508.1L274.3 502.9M269.4 524.7L274.6 529.9M269.4 529.9L274.6 524.7M269.7 500.8L274.9 506.0M269.7 506.0L274.9 500.8M270.0 502.1L275.2 507.3M270.0 507.3L275.2 502.1M270.3 496.5L275.5 501.7M270.3 501.7L275.5 496.5M270.6 501.3L275.8 506.5M270.6 506.5L275.8 501.3M270.9 507.8L276.1 513.0M270.9 513.0L276.1 507.8M271.2 527.3L276.4 532.5M271.2 532.5L276.4 527.3M271.5 509.4L276.7 514.6M271.5 514.6L276.7 509.4M271.8 510.3L277.0 515.5M271.8 515.5L277.0 510.3M272.1 514.3L277.3 519.5M272.1 519.5L277.3 514.3M272.4 509.3L277.6 514.5M272.4 514.5L277.6 509.3M272.7 509.7L277.9 514.9M272.7 514.9L277.9 509.7M273.0 503.1L278.2 508.3M273.0 508.3L278.2 503.1M273.3 511.3L278.5 516.5M273.3 516.5L278.5 511.3M273.6 512.1L278.8 517.3M273.6 517.3L278.8 512.1M273.9 536.3L279.1 541.5M273.9 541.5L279.1 536.3M274.1 530.2L279.3 535.4M274.1 535.4L279.3 530.2M274.4 514.4L279.6 519.6M274.4 519.6L279.6 514.4M274.7 498.2L279.9 503.4M274.7 503.4L279.9 498.2M275.0 508.6L280.2 513.8M275.0 513.8L280.2 508.6M275.3 513.7L280.5 518.9M275.3 518.9L280.5 513.7M275.6 498.2L280.8 503.4M275.6 503.4L280.8 498.2M275.9 475.7L281.1 480.9M275.9 480.9L281.1 475.7M276.2 509.0L281.4 514.2M276.2 514.2L281.4 509.0M276.5 497.5L281.7 502.7M276.5 502.7L281.7 497.5M276.8 510.7L282.0 515.9M276.8 515.9L282.0 510.7M277.1 505.5L282.3 510.7M277.1 510.7L282.3 505.5M277.4 525.6L282.6 530.8M277.4 530.8L282.6 525.6M277.7 527.2L282.9 532.4M277.7 532.4L282.9 527.2M278.0 530.1L283.2 535.3M278.0 535.3L283.2 530.1M278.3 529.6L283.5 534.8M278.3 534.8L283.5 529.6M278.6 517.8L283.8 523.0M278.6 523.0L283.8 517.8M278.9 497.0L284.1 502.2M278.9 502.2L284.1 497.0M279.2 520.2L284.4 525.4M279.2 525.4L284.4 520.2M279.5 531.9L284.7 537.1M279.5 537.1L284.7 531.9M279.8 526.2L285.0 531.4M279.8 531.4L285.0 526.2M280.1 540.6L285.3 545.8M280.1 545.8L285.3 540.6M280.4 531.0L285.6 536.2M280.4 536.2L285.6 531.0M280.7 524.9L285.9 530.1M280.7 530.1L285.9 524.9M281.0 531.1L286.2 536.3M281.0 536.3L286.2 531.1M281.2 525.4L286.4 530.6M281.2 530.6L286.4 525.4M281.5 545.8L286.7 551.0M281.5 551.0L286.7 545.8M281.8 552.4L287.0 557.6M281.8 557.6L287.0 552.4M282.1 548.8L287.3 554.0M282.1 554.0L287.3 548.8M282.4 549.0L287.6 554.2M282.4 554.2L287.6 549.0M282.7 547.5L287.9 552.7M282.7 552.7L287.9 547.5M283.0 545.0L288.2 550.2M283.0 550.2L288.2 545.0M283.3 529.3L288.5 534.5M283.3 534.5L288.5 529.3M283.6 529.5L288.8 534.7M283.6 534.7L288.8 529.5M283.9 535.0L289.1 540.2M283.9 540.2L289.1 535.0M284.2 527.4L289.4 532.6M284.2 532.6L289.4 527.4M284.5 511.5L289.7 516.7M284.5 516.7L289.7 511.5M284.8 520.5L290.0 525.7M284.8 525.7L290.0 520.5M285.1 521.4L290.3 526.6M285.1 526.6L290.3 521.4M285.4 512.1L290.6 517.3M285.4 517.3L290.6 512.1M285.7 517.9L290.9 523.1M285.7 523.1L290.9 517.9M286.0 538.7L291.2 543.9M286.0 543.9L291.2 538.7M286.3 507.4L291.5 512.6M286.3 512.6L291.5 507.4M286.6 493.4L291.8 498.6M286.6 498.6L291.8 493.4M286.9 533.1L292.1 538.3M286.9 538.3L292.1 533.1M287.2 532.9L292.4 538.1M287.2 538.1L292.4 532.9M287.5 527.7L292.7 532.9M287.5 532.9L292.7 527.7M287.8 518.6L293.0 523.8M287.8 523.8L293.0 518.6M288.1 516.9L293.3 522.1M288.1 522.1L293.3 516.9M288.3 526.7L293.5 531.9M288.3 531.9L293.5 526.7M288.6 540.9L293.8 546.1M288.6 546.1L293.8 540.9M288.9 535.6L294.1 540.8M288.9 540.8L294.1 535.6M289.2 522.2L294.4 527.4M289.2 527.4L294.4 522.2M289.5 538.8L294.7 544.0M289.5 544.0L294.7 538.8M289.8 547.3L295.0 552.5M289.8 552.5L295.0 547.3M290.1 540.6L295.3 545.8M290.1 545.8L295.3 540.6M290.4 558.5L295.6 563.7M290.4 563.7L295.6 558.5M290.7 549.4L295.9 554.6M290.7 554.6L295.9 549.4M291.0 546.4L296.2 551.6M291.0 551.6L296.2 546.4M291.3 532.9L296.5 538.1M291.3 538.1L296.5 532.9M291.6 537.7L296.8 542.9M291.6 542.9L296.8 537.7M291.9 541.6L297.1 546.8M291.9 546.8L297.1 541.6M292.2 537.4L297.4 542.6M292.2 542.6L297.4 537.4M292.5 530.4L297.7 535.6M292.5 535.6L297.7 530.4M292.8 532.6L298.0 537.8M292.8 537.8L298.0 532.6M293.1 525.4L298.3 530.6M293.1 530.6L298.3 525.4M293.4 512.3L298.6 517.5M293.4 517.5L298.6 512.3M293.7 499.3L298.9 504.5M293.7 504.5L298.9 499.3M294.0 487.3L299.2 492.5M294.0 492.5L299.2 487.3M294.3 508.9L299.5 514.1M294.3 514.1L299.5 508.9M294.6 516.6L299.8 521.8M294.6 521.8L299.8 516.6M294.9 544.2L300.1 549.4M294.9 549.4L300.1 544.2M295.2 509.8L300.4 515.0M295.2 515.0L300.4 509.8M295.4 520.6L300.6 525.8M295.4 525.8L300.6 520.6M295.7 518.7L300.9 523.9M295.7 523.9L300.9 518.7M296.0 511.3L301.2 516.5M296.0 516.5L301.2 511.3M296.3 528.6L301.5 533.8M296.3 533.8L301.5 528.6M296.6 517.5L301.8 522.7M296.6 522.7L301.8 517.5M296.9 516.9L302.1 522.1M296.9 522.1L302.1 516.9M297.2 536.9L302.4 542.1M297.2 542.1L302.4 536.9M297.5 524.0L302.7 529.2M297.5 529.2L302.7 524.0M297.8 506.7L303.0 511.9M297.8 511.9L303.0 506.7M298.1 531.8L303.3 537.0M298.1 537.0L303.3 531.8M298.4 515.3L303.6 520.5M298.4 520.5L303.6 515.3M298.7 513.0L303.9 518.2M298.7 518.2L303.9 513.0M299.0 508.8L304.2 514.0M299.0 514.0L304.2 508.8M299.3 506.8L304.5 512.0M299.3 512.0L304.5 506.8M299.6 559.3L304.8 564.5M299.6 564.5L304.8 559.3M299.9 507.3L305.1 512.5M299.9 512.5L305.1 507.3M300.2 501.1L305.4 506.3M300.2 506.3L305.4 501.1M300.5 512.2L305.7 517.4M300.5 517.4L305.7 512.2M300.8 505.5L306.0 510.7M300.8 510.7L306.0 505.5M301.1 519.2L306.3 524.4M301.1 524.4L306.3 519.2M301.4 520.7L306.6 525.9M301.4 525.9L306.6 520.7M301.7 501.5L306.9 506.7M301.7 506.7L306.9 501.5M302.0 506.4L307.2 511.6M302.0 511.6L307.2 506.4M302.3 516.8L307.5 522.0M302.3 522.0L307.5 516.8M302.5 534.5L307.7 539.7M302.5 539.7L307.7 534.5M302.8 541.1L308.0 546.3M302.8 546.3L308.0 541.1M303.1 534.5L308.3 539.7M303.1 539.7L308.3 534.5M303.4 523.3L308.6 528.5M303.4 528.5L308.6 523.3M303.7 523.8L308.9 529.0M303.7 529.0L308.9 523.8M304.0 491.4L309.2 496.6M304.0 496.6L309.2 491.4M304.3 527.2L309.5 532.4M304.3 532.4L309.5 527.2M304.6 514.4L309.8 519.6M304.6 519.6L309.8 514.4M304.9 527.1L310.1 532.3M304.9 532.3L310.1 527.1M305.2 535.8L310.4 541.0M305.2 541.0L310.4 535.8M305.5 524.4L310.7 529.6M305.5 529.6L310.7 524.4M305.8 527.4L311.0 532.6M305.8 532.6L311.0 527.4M306.1 533.0L311.3 538.2M306.1 538.2L311.3 533.0M306.4 539.4L311.6 544.6M306.4 544.6L311.6 539.4M306.7 539.3L311.9 544.5M306.7 544.5L311.9 539.3M307.0 529.3L312.2 534.5M307.0 534.5L312.2 529.3M307.3 526.8L312.5 532.0M307.3 532.0L312.5 526.8M307.6 543.2L312.8 548.4M307.6 548.4L312.8 543.2M307.9 533.7L313.1 538.9M307.9 538.9L313.1 533.7M308.2 531.2L313.4 536.4M308.2 536.4L313.4 531.2M308.5 543.2L313.7 548.4M308.5 548.4L313.7 543.2M308.8 529.8L314.0 535.0M308.8 535.0L314.0 529.8M309.1 534.3L314.3 539.5M309.1 539.5L314.3 534.3M309.3 537.4L314.5 542.6M309.3 542.6L314.5 537.4M309.6 526.3L314.8 531.5M309.6 531.5L314.8 526.3M309.9 514.2L315.1 519.4M309.9 519.4L315.1 514.2M310.2 530.4L315.4 535.6M310.2 535.6L315.4 530.4M310.5 526.5L315.7 531.7M310.5 531.7L315.7 526.5M310.8 539.2L316.0 544.4M310.8 544.4L316.0 539.2M311.1 510.1L316.3 515.3M311.1 515.3L316.3 510.1M311.4 523.8L316.6 529.0M311.4 529.0L316.6 523.8M311.7 511.3L316.9 516.5M311.7 516.5L316.9 511.3M312.0 524.3L317.2 529.5M312.0 529.5L317.2 524.3M312.3 514.0L317.5 519.2M312.3 519.2L317.5 514.0M312.6 491.5L317.8 496.7M312.6 496.7L317.8 491.5M312.9 532.1L318.1 537.3M312.9 537.3L318.1 532.1M313.2 529.6L318.4 534.8M313.2 534.8L318.4 529.6M313.5 516.7L318.7 521.9M313.5 521.9L318.7 516.7M313.8 515.4L319.0 520.6M313.8 520.6L319.0 515.4M314.1 522.4L319.3 527.6M314.1 527.6L319.3 522.4M314.4 494.3L319.6 499.5M314.4 499.5L319.6 494.3M314.7 502.3L319.9 507.5M314.7 507.5L319.9 502.3M315.0 526.2L320.2 531.4M315.0 531.4L320.2 526.2M315.3 511.1L320.5 516.3M315.3 516.3L320.5 511.1M315.6 531.9L320.8 537.1M315.6 537.1L320.8 531.9M315.9 510.8L321.1 516.0M315.9 516.0L321.1 510.8M316.2 518.8L321.4 524.0M316.2 524.0L321.4 518.8M316.4 515.0L321.6 520.2M316.4 520.2L321.6 515.0M316.7 500.3L321.9 505.5M316.7 505.5L321.9 500.3M317.0 505.2L322.2 510.4M317.0 510.4L322.2 505.2M317.3 524.9L322.5 530.1M317.3 530.1L322.5 524.9M317.6 539.2L322.8 544.4M317.6 544.4L322.8 539.2M317.9 514.5L323.1 519.7M317.9 519.7L323.1 514.5M318.2 505.9L323.4 511.1M318.2 511.1L323.4 505.9M318.5 518.8L323.7 524.0M318.5 524.0L323.7 518.8M318.8 506.9L324.0 512.1M318.8 512.1L324.0 506.9M319.1 504.5L324.3 509.7M319.1 509.7L324.3 504.5M319.4 502.6L324.6 507.8M319.4 507.8L324.6 502.6M319.7 534.9L324.9 540.1M319.7 540.1L324.9 534.9M320.0 531.0L325.2 536.2M320.0 536.2L325.2 531.0M320.3 493.4L325.5 498.6M320.3 498.6L325.5 493.4M320.6 509.7L325.8 514.9M320.6 514.9L325.8 509.7M320.9 505.3L326.1 510.5M320.9 510.5L326.1 505.3M321.2 541.1L326.4 546.3M321.2 546.3L326.4 541.1M321.5 531.5L326.7 536.7M321.5 536.7L326.7 531.5M321.8 523.1L327.0 528.3M321.8 528.3L327.0 523.1M322.1 494.6L327.3 499.8M322.1 499.8L327.3 494.6M322.4 518.6L327.6 523.8M322.4 523.8L327.6 518.6M322.7 524.7L327.9 529.9M322.7 529.9L327.9 524.7M323.0 523.9L328.2 529.1M323.0 529.1L328.2 523.9M323.3 513.9L328.5 519.1M323.3 519.1L328.5 513.9M323.5 523.4L328.7 528.6M323.5 528.6L328.7 523.4M323.8 510.6L329.0 515.8M323.8 515.8L329.0 510.6M324.1 525.5L329.3 530.7M324.1 530.7L329.3 525.5M324.4 521.8L329.6 527.0M324.4 527.0L329.6 521.8M324.7 528.7L329.9 533.9M324.7 533.9L329.9 528.7M325.0 524.7L330.2 529.9M325.0 529.9L330.2 524.7M325.3 532.2L330.5 537.4M325.3 537.4L330.5 532.2M325.6 546.5L330.8 551.7M325.6 551.7L330.8 546.5M325.9 524.0L331.1 529.2M325.9 529.2L331.1 524.0M326.2 520.5L331.4 525.7M326.2 525.7L331.4 520.5M326.5 528.3L331.7 533.5M326.5 533.5L331.7 528.3M326.8 524.1L332.0 529.3M326.8 529.3L332.0 524.1M327.1 512.8L332.3 518.0M327.1 518.0L332.3 512.8M327.4 528.8L332.6 534.0M327.4 534.0L332.6 528.8M327.7 527.9L332.9 533.1M327.7 533.1L332.9 527.9M328.0 520.0L333.2 525.2M328.0 525.2L333.2 520.0M328.3 515.8L333.5 521.0M328.3 521.0L333.5 515.8M328.6 523.2L333.8 528.4M328.6 528.4L333.8 523.2M328.9 547.4L334.1 552.6M328.9 552.6L334.1 547.4M329.2 550.5L334.4 555.7M329.2 555.7L334.4 550.5M329.5 519.5L334.7 524.7M329.5 524.7L334.7 519.5M329.8 521.3L335.0 526.5M329.8 526.5L335.0 521.3M330.1 525.6L335.3 530.8M330.1 530.8L335.3 525.6M330.4 521.9L335.6 527.1M330.4 527.1L335.6 521.9M330.6 527.6L335.8 532.8M330.6 532.8L335.8 527.6M330.9 537.5L336.1 542.7M330.9 542.7L336.1 537.5M331.2 539.8L336.4 545.0M331.2 545.0L336.4 539.8M331.5 539.4L336.7 544.6M331.5 544.6L336.7 539.4M331.8 539.3L337.0 544.5M331.8 544.5L337.0 539.3M332.1 545.5L337.3 550.7M332.1 550.7L337.3 545.5M332.4 528.6L337.6 533.8M332.4 533.8L337.6 528.6M332.7 541.3L337.9 546.5M332.7 546.5L337.9 541.3M333.0 526.0L338.2 531.2M333.0 531.2L338.2 526.0M333.3 536.5L338.5 541.7M333.3 541.7L338.5 536.5M333.6 526.8L338.8 532.0M333.6 532.0L338.8 526.8M333.9 510.0L339.1 515.2M333.9 515.2L339.1 510.0M334.2 513.9L339.4 519.1M334.2 519.1L339.4 513.9M334.5 526.7L339.7 531.9M334.5 531.9L339.7 526.7M334.8 524.9L340.0 530.1M334.8 530.1L340.0 524.9M335.1 522.8L340.3 528.0M335.1 528.0L340.3 522.8M335.4 542.9L340.6 548.1M335.4 548.1L340.6 542.9M335.7 541.2L340.9 546.4M335.7 546.4L340.9 541.2M336.0 531.6L341.2 536.8M336.0 536.8L341.2 531.6M336.3 533.4L341.5 538.6M336.3 538.6L341.5 533.4M336.6 528.2L341.8 533.4M336.6 533.4L341.8 528.2M336.9 518.0L342.1 523.2M336.9 523.2L342.1 518.0M337.2 512.0L342.4 517.2M337.2 517.2L342.4 512.0M337.5 507.1L342.7 512.3M337.5 512.3L342.7 507.1M337.7 508.0L342.9 513.2M337.7 513.2L342.9 508.0M338.0 518.4L343.2 523.6M338.0 523.6L343.2 518.4M338.3 521.1L343.5 526.3M338.3 526.3L343.5 521.1M338.6 525.4L343.8 530.6M338.6 530.6L343.8 525.4M338.9 528.3L344.1 533.5M338.9 533.5L344.1 528.3M339.2 528.3L344.4 533.5M339.2 533.5L344.4 528.3M339.5 545.8L344.7 551.0M339.5 551.0L344.7 545.8M339.8 539.7L345.0 544.9M339.8 544.9L345.0 539.7M340.1 532.9L345.3 538.1M340.1 538.1L345.3 532.9M340.4 539.8L345.6 545.0M340.4 545.0L345.6 539.8M340.7 532.9L345.9 538.1M340.7 538.1L345.9 532.9M341.0 523.0L346.2 528.2M341.0 528.2L346.2 523.0" stroke="#2a8a50" stroke-width="1.0" fill="none" opacity="0.8"/>
<line x1="47.5" y1="417.1" x2="47.5" y2="634.3" stroke="#222" stroke-width="2"/>
<line x1="46.5" y1="633.3" x2="344.0" y2="633.3" stroke="#222" stroke-width="2"/>
<path d="M43.5 633.7H47.5M41.5 623.9H47.5M43.5 614.1H47.5M43.5 604.2H47.5M43.5 594.4H47.5M43.5 584.5H47.5M41.5 574.7H47.5M43.5 564.9H47.5M43.5 555.0H47.5M43.5 545.2H47.5M43.5 535.3H47.5M41.5 525.5H47.5M43.5 515.7H47.5M43.5 505.8H47.5M43.5 496.0H47.5M43.5 486.1H47.5M41.5 476.3H47.5M43.5 466.5H47.5M43.5 456.6H47.5M43.5 446.8H47.5M43.5 436.9H47.5M41.5 427.1H47.5M43.5 417.3H47.5M47.8 633.3V639.3M62.6 633.3V638.3M77.4 633.3V639.3M92.2 633.3V638.3M107.0 633.3V639.3M121.8 633.3V638.3M136.5 633.3V639.3M151.3 633.3V638.3M166.1 633.3V639.3M180.9 633.3V638.3M195.7 633.3V639.3M210.5 633.3V638.3M225.3 633.3V639.3M240.1 633.3V638.3M254.9 633.3V639.3M269.6 633.3V638.3M284.4 633.3V639.3M299.2 633.3V638.3M314.0 633.3V639.3M328.8 633.3V638.3M343.6 633.3V639.3" stroke="#333" stroke-width="1.2" fill="none"/>
<text x="37.5" y="430.7" font-size="10" fill="#333" text-anchor="end" stroke="#333" stroke-width="0.35">10</text>
<text x="37.5" y="479.9" font-size="10" fill="#333" text-anchor="end" stroke="#333" stroke-width="0.35">5</text>
<text x="37.5" y="529.1" font-size="10" fill="#333" text-anchor="end" stroke="#333" stroke-width="0.35">0</text>
<text x="37.5" y="578.3" font-size="10" fill="#333" text-anchor="end" stroke="#333" stroke-width="0.35">-5</text>
<text x="37.5" y="627.5" font-size="10" fill="#333" text-anchor="end" stroke="#333" stroke-width="0.35">-10</text>
<text x="47.8" y="652.6" font-size="8.2" fill="#333" text-anchor="middle" stroke="#333" stroke-width="0.35">0</text>
<text x="77.4" y="652.6" font-size="8.2" fill="#333" text-anchor="middle" stroke="#333" stroke-width="0.35">100</text>
<text x="107.0" y="652.6" font-size="8.2" fill="#333" text-anchor="middle" stroke="#333" stroke-width="0.35">200</text>
<text x="136.5" y="652.6" font-size="8.2" fill="#333" text-anchor="middle" stroke="#333" stroke-width="0.35">300</text>
<text x="166.1" y="652.6" font-size="8.2" fill="#333" text-anchor="middle" stroke="#333" stroke-width="0.35">400</text>
<text x="195.7" y="652.6" font-size="8.2" fill="#333" text-anchor="middle" stroke="#333" stroke-width="0.35">500</text>
<text x="225.3" y="652.6" font-size="8.2" fill="#333" text-anchor="middle" stroke="#333" stroke-width="0.35">600</text>
<text x="254.9" y="652.6" font-size="8.2" fill="#333" text-anchor="middle" stroke="#333" stroke-width="0.35">700</text>
<text x="284.4" y="652.6" font-size="8.2" fill="#333" text-anchor="middle" stroke="#333" stroke-width="0.35">800</text>
<text x="314.0" y="652.6" font-size="8.2" fill="#333" text-anchor="middle" stroke="#333" stroke-width="0.35">900</text>
<text x="343.6" y="652.6" font-size="8.2" fill="#333" text-anchor="middle" stroke="#333" stroke-width="0.35">1000</text>
<text x="350.5" y="430.8" font-size="10" fill="#555" stroke="#555" stroke-width="0.1">U</text>
<text x="350.5" y="628.2" font-size="10" fill="#555" stroke="#555" stroke-width="0.1">L</text>
<text x="356" y="528.6" font-size="10.5" fill="#333" text-anchor="middle" stroke="#333" stroke-width="0.3">X</text>
<line x1="351.6" y1="519.6" x2="360.4" y2="519.6" stroke="#333" stroke-width="1.4"/>
<text x="64.4" y="690.5" font-size="13.15" fill="#333" stroke="#333" stroke-width="0.35">b) Пример временной диаграммы модели С1</text>
<rect x="415.6" y="431.9" width="307.4" height="201.39999999999998" fill="none" stroke="#858585" stroke-width="1.6"/>
<rect x="512.9" y="619.9" width="13.8" height="13.4" fill="#48bf48" stroke="#98d898" stroke-width="1.1"/>
<rect x="526.7" y="594.3" width="13.6" height="39.0" fill="#48bf48" stroke="#98d898" stroke-width="1.1"/>
<rect x="540.3" y="525.1" width="14.0" height="108.2" fill="#48bf48" stroke="#98d898" stroke-width="1.1"/>
<rect x="554.3" y="478.1" width="14.1" height="155.2" fill="#48bf48" stroke="#98d898" stroke-width="1.1"/>
<rect x="568.4" y="461.3" width="13.8" height="172.0" fill="#48bf48" stroke="#98d898" stroke-width="1.1"/>
<rect x="582.2" y="523.8" width="14.3" height="109.5" fill="#48bf48" stroke="#98d898" stroke-width="1.1"/>
<rect x="596.5" y="586.3" width="13.3" height="47.0" fill="#48bf48" stroke="#98d898" stroke-width="1.1"/>
<rect x="609.8" y="612.5" width="15.0" height="20.8" fill="#48bf48" stroke="#98d898" stroke-width="1.1"/>
<rect x="498.8" y="631.3" width="14.0" height="2.0" fill="#48bf48"/>
<rect x="624.9" y="631.3" width="13.8" height="2.0" fill="#48bf48"/>
<line x1="505.4" y1="431.9" x2="505.4" y2="633.3" stroke="#777" stroke-width="1.2" stroke-dasharray="7.7,4.4,2.6,5" stroke-dashoffset="14"/>
<line x1="637.0" y1="431.9" x2="637.0" y2="633.3" stroke="#777" stroke-width="1.2" stroke-dasharray="7.7,4.4,2.6,5" stroke-dashoffset="14"/>
<line x1="570.8" y1="431.9" x2="570.8" y2="633.3" stroke="#6a8080" stroke-width="1.1" stroke-dasharray="5,2.5,2.5,2.5"/>
<polyline points="415.2,633.3 416.8,633.3 418.3,633.3 419.9,633.3 421.4,633.3 423.0,633.3 424.5,633.3 426.1,633.3 427.6,633.3 429.2,633.3 430.7,633.3 432.3,633.3 433.8,633.3 435.3,633.3 436.9,633.3 438.4,633.3 440.0,633.3 441.5,633.3 443.1,633.3 444.6,633.3 446.2,633.3 447.7,633.3 449.3,633.3 450.8,633.3 452.3,633.3 453.9,633.3 455.4,633.3 457.0,633.3 458.5,633.3 460.1,633.3 461.6,633.3 463.2,633.3 464.7,633.3 466.3,633.3 467.8,633.3 469.3,633.3 470.9,633.3 472.4,633.3 474.0,633.3 475.5,633.2 477.1,633.2 478.6,633.2 480.2,633.2 481.7,633.1 483.3,633.1 484.8,633.1 486.3,633.0 487.9,632.9 489.4,632.8 491.0,632.7 492.5,632.6 494.1,632.4 495.6,632.3 497.2,632.0 498.7,631.8 500.3,631.5 501.8,631.1 503.3,630.7 504.9,630.2 506.4,629.6 508.0,628.9 509.5,628.1 511.1,627.2 512.6,626.1 514.2,624.9 515.7,623.6 517.3,622.0 518.8,620.3 520.3,618.3 521.9,616.1 523.4,613.6 525.0,610.9 526.5,607.9 528.1,604.6 529.6,601.0 531.2,597.1 532.7,592.8 534.3,588.3 535.8,583.4 537.3,578.1 538.9,572.6 540.4,566.7 542.0,560.6 543.5,554.3 545.1,547.7 546.6,540.9 548.2,534.0 549.7,527.1 551.3,520.1 552.8,513.1 554.3,506.3 555.9,499.6 557.4,493.2 559.0,487.2 560.5,481.6 562.1,476.4 563.6,471.9 565.2,468.1 566.7,465.0 568.3,462.8 569.8,461.5 571.3,461.4 572.9,462.6 574.4,464.7 576.0,467.8 577.5,471.5 579.1,476.0 580.6,481.1 582.2,486.6 583.7,492.7 585.3,499.0 586.8,505.7 588.3,512.5 589.9,519.4 591.4,526.4 593.0,533.4 594.5,540.3 596.1,547.1 597.6,553.7 599.2,560.1 600.7,566.2 602.3,572.1 603.8,577.6 605.3,582.9 606.9,587.8 608.4,592.4 610.0,596.7 611.5,600.7 613.1,604.3 614.6,607.6 616.2,610.7 617.7,613.4 619.3,615.9 620.8,618.1 622.3,620.1 623.9,621.9 625.4,623.4 627.0,624.8 628.5,626.0 630.1,627.1 631.6,628.0 633.2,628.8 634.7,629.5 636.3,630.1 637.8,630.6 639.3,631.1 640.9,631.4 642.4,631.8 644.0,632.0 645.5,632.2 647.1,632.4 648.6,632.6 650.2,632.7 651.7,632.8 653.3,632.9 654.8,633.0 656.3,633.1 657.9,633.1 659.4,633.1 661.0,633.2 662.5,633.2 664.1,633.2 665.6,633.2 667.2,633.3 668.7,633.3 670.3,633.3 671.8,633.3 673.3,633.3 674.9,633.3 676.4,633.3 678.0,633.3 679.5,633.3 681.1,633.3 682.6,633.3 684.2,633.3 685.7,633.3 687.3,633.3 688.8,633.3 690.3,633.3 691.9,633.3 693.4,633.3 695.0,633.3 696.5,633.3 698.1,633.3 699.6,633.3 701.2,633.3 702.7,633.3 704.3,633.3 705.8,633.3 707.3,633.3 708.9,633.3 710.4,633.3 712.0,633.3 713.5,633.3 715.1,633.3 716.6,633.3 718.2,633.3 719.7,633.3 721.3,633.3 722.8,633.3 724.3,633.3" fill="none" stroke="#b87272" stroke-width="1.1"/>
<line x1="429.3" y1="431.9" x2="429.3" y2="633.3" stroke="#b86a7e" stroke-width="1.8"/>
<line x1="710.3" y1="431.9" x2="710.3" y2="633.3" stroke="#b86a7e" stroke-width="1.8"/>
<line x1="415.6" y1="633.3" x2="723.0" y2="633.3" stroke="#4a2a2a" stroke-width="2"/>
<line x1="415.6" y1="431.9" x2="415.6" y2="633.3" stroke="#111" stroke-width="2"/>
<path d="M408.6 633.3H415.6M410.6 626.6H415.6M410.6 619.9H415.6M410.6 613.1H415.6M410.6 606.4H415.6M408.6 599.7H415.6M410.6 593.0H415.6M410.6 586.3H415.6M410.6 579.5H415.6M410.6 572.8H415.6M408.6 566.1H415.6M410.6 559.4H415.6M410.6 552.7H415.6M410.6 545.9H415.6M410.6 539.2H415.6M408.6 532.5H415.6M410.6 525.8H415.6M410.6 519.1H415.6M410.6 512.3H415.6M410.6 505.6H415.6M408.6 498.9H415.6M410.6 492.2H415.6M410.6 485.5H415.6M410.6 478.7H415.6M410.6 472.0H415.6M408.6 465.3H415.6M410.6 458.6H415.6M410.6 451.9H415.6M410.6 445.1H415.6M410.6 438.4H415.6M408.6 431.7H415.6M415.2 633.3V637.8M429.3 633.3V639.3M443.3 633.3V637.8M457.4 633.3V637.8M471.4 633.3V637.8M485.5 633.3V637.8M499.5 633.3V639.3M513.6 633.3V637.8M527.6 633.3V637.8M541.7 633.3V637.8M555.8 633.3V637.8M569.8 633.3V639.3M583.8 633.3V637.8M597.9 633.3V637.8M611.9 633.3V637.8M626.0 633.3V637.8M640.0 633.3V639.3M654.1 633.3V637.8M668.1 633.3V637.8M682.2 633.3V637.8M696.2 633.3V637.8M710.3 633.3V639.3" stroke="#333" stroke-width="1.1" fill="none"/>
<text x="402.8" y="636.5" font-size="9.0" fill="#3a3a3a" text-anchor="end" stroke="#3a3a3a" stroke-width="0.2">0</text>
<text x="402.8" y="602.9" font-size="9.0" fill="#3a3a3a" text-anchor="end" stroke="#3a3a3a" stroke-width="0.2">50</text>
<text x="402.8" y="569.3" font-size="9.0" fill="#3a3a3a" text-anchor="end" stroke="#3a3a3a" stroke-width="0.2">100</text>
<text x="402.8" y="535.7" font-size="9.0" fill="#3a3a3a" text-anchor="end" stroke="#3a3a3a" stroke-width="0.2">150</text>
<text x="402.8" y="502.1" font-size="9.0" fill="#3a3a3a" text-anchor="end" stroke="#3a3a3a" stroke-width="0.2">200</text>
<text x="402.8" y="468.5" font-size="9.0" fill="#3a3a3a" text-anchor="end" stroke="#3a3a3a" stroke-width="0.2">250</text>
<text x="402.8" y="434.9" font-size="9.0" fill="#3a3a3a" text-anchor="end" stroke="#3a3a3a" stroke-width="0.2">300</text>
<text x="429.3" y="652.2" font-size="10" fill="#555" text-anchor="middle" stroke="#555" stroke-width="0.15">-10</text>
<text x="499.5" y="652.2" font-size="10" fill="#555" text-anchor="middle" stroke="#555" stroke-width="0.15">-5</text>
<text x="569.8" y="652.2" font-size="10" fill="#555" text-anchor="middle" stroke="#555" stroke-width="0.15">0</text>
<text x="640.0" y="652.2" font-size="10" fill="#555" text-anchor="middle" stroke="#555" stroke-width="0.15">5</text>
<text x="710.3" y="652.2" font-size="10" fill="#555" text-anchor="middle" stroke="#555" stroke-width="0.15">10</text>
<text x="430.5" y="427" font-size="9.5" fill="#444" text-anchor="middle" stroke="#444" stroke-width="0.05">L</text>
<text x="710" y="427" font-size="9.5" fill="#444" text-anchor="middle" stroke="#444" stroke-width="0.05">U</text>
<text x="570.6" y="428.5" font-size="10" fill="#333" text-anchor="middle" stroke="#333" stroke-width="0.5">X</text>
<line x1="566.2" y1="420.2" x2="575" y2="420.2" stroke="#333" stroke-width="1.4"/>
<text x="470.4" y="691.1" font-size="13.25" fill="#333" stroke="#333" stroke-width="0.35">c) Пример гистограммы модели С1</text>
<text x="160.9" y="718.9" font-size="11.75" fill="#333" stroke="#333" stroke-width="0.35">X — характерные значения; Y — время; а — результирующее распределение</text></svg>
</body></html>
